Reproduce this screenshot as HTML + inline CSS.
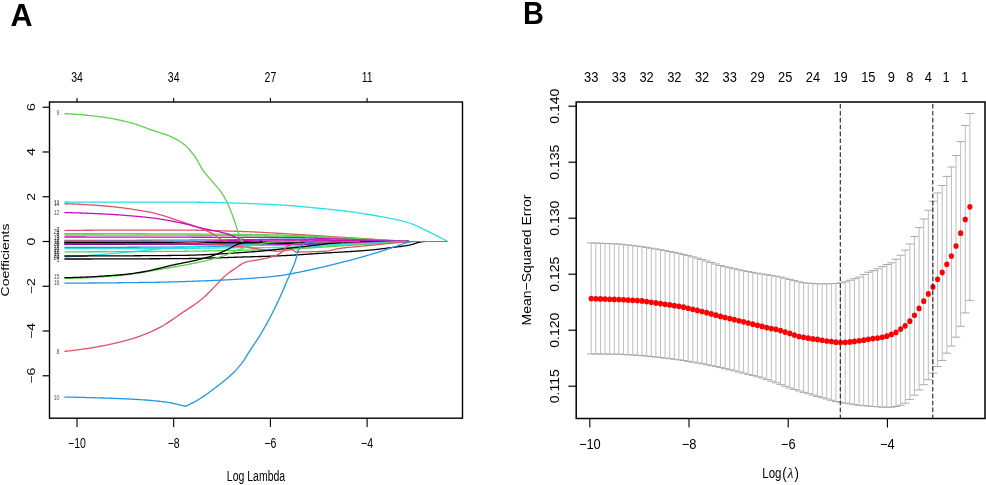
<!DOCTYPE html>
<html><head><meta charset="utf-8"><title>LASSO</title>
<style>html,body{margin:0;padding:0;background:#fff;overflow:hidden}svg{display:block;will-change:transform}text{font-family:"Liberation Sans",sans-serif}</style>
</head><body>
<svg width="986" height="485" viewBox="0 0 986 485" font-family="Liberation Sans, sans-serif"><rect width="986" height="485" fill="#fff"/><path d="M235,241.5H409.0" stroke="#7a3a8a" stroke-width="1.2" fill="none"/>
<path d="M64.4,230.4 L65.9,230.39 L67.4,230.38 L68.9,230.37 L70.4,230.36 L71.9,230.35 L73.4,230.34 L74.9,230.33 L76.4,230.32 L77.9,230.31 L79.4,230.3 L80.9,230.29 L82.4,230.28 L83.9,230.27 L85.4,230.26 L86.9,230.26 L88.4,230.25 L89.9,230.24 L91.4,230.24 L92.9,230.23 L94.4,230.22 L95.9,230.22 L97.4,230.21 L98.9,230.2 L100.4,230.2 L101.9,230.19 L103.4,230.19 L104.9,230.18 L106.4,230.18 L107.9,230.17 L109.4,230.17 L110.9,230.16 L112.4,230.16 L113.9,230.16 L115.4,230.15 L116.9,230.15 L118.4,230.15 L119.9,230.14 L121.4,230.14 L122.9,230.14 L124.4,230.13 L125.9,230.13 L127.4,230.13 L128.9,230.13 L130.4,230.12 L131.9,230.12 L133.4,230.12 L134.9,230.12 L136.4,230.12 L137.9,230.11 L139.4,230.11 L140.9,230.11 L142.4,230.11 L143.9,230.11 L145.4,230.11 L146.9,230.11 L148.4,230.11 L149.9,230.11 L151.4,230.1 L152.9,230.1 L154.4,230.1 L155.9,230.1 L157.4,230.1 L158.9,230.1 L160.4,230.1 L161.9,230.1 L163.4,230.1 L164.9,230.1 L166.4,230.1 L167.9,230.1 L169.4,230.1 L170.9,230.1 L172.4,230.1 L173.9,230.1 L175.4,230.1 L176.9,230.1 L178.4,230.1 L179.9,230.1 L181.4,230.1 L182.9,230.1 L184.4,230.11 L185.9,230.12 L187.4,230.13 L188.9,230.14 L190.4,230.16 L191.9,230.17 L193.4,230.19 L194.9,230.21 L196.4,230.24 L197.9,230.26 L199.4,230.29 L200.9,230.32 L202.4,230.35 L203.9,230.38 L205.4,230.41 L206.9,230.44 L208.4,230.48 L209.9,230.52 L211.4,230.55 L212.9,230.59 L214.4,230.63 L215.9,230.67 L217.4,230.72 L218.9,230.76 L220.4,230.8 L221.9,230.84 L223.4,230.89 L224.9,230.93 L226.4,230.98 L227.9,231.03 L229.4,231.07 L230.9,231.12 L232.4,231.16 L233.9,231.21 L235.4,231.26 L236.9,231.3 L238.4,231.35 L239.9,231.4 L241.4,231.44 L242.9,231.49 L244.4,231.55 L245.9,231.6 L247.4,231.66 L248.9,231.72 L250.4,231.79 L251.9,231.85 L253.4,231.92 L254.9,231.99 L256.4,232.06 L257.9,232.14 L259.4,232.21 L260.9,232.29 L262.4,232.37 L263.9,232.45 L265.4,232.53 L266.9,232.61 L268.4,232.7 L269.9,232.79 L271.4,232.87 L272.9,232.96 L274.4,233.05 L275.9,233.14 L277.4,233.23 L278.9,233.32 L280.4,233.41 L281.9,233.5 L283.4,233.59 L284.9,233.69 L286.4,233.78 L287.9,233.87 L289.4,233.96 L290.9,234.05 L292.4,234.14 L293.9,234.24 L295.4,234.33 L296.9,234.42 L298.4,234.51 L299.9,234.59 L301.4,234.68 L302.9,234.77 L304.4,234.87 L305.9,234.96 L307.4,235.05 L308.9,235.15 L310.4,235.25 L311.9,235.34 L313.4,235.44 L314.9,235.54 L316.4,235.63 L317.9,235.73 L319.4,235.83 L320.9,235.92 L322.4,236.02 L323.9,236.11 L325.4,236.21 L326.9,236.3 L328.4,236.4 L329.9,236.49 L331.4,236.59 L332.9,236.68 L334.4,236.78 L335.9,236.87 L337.4,236.97 L338.9,237.06 L340.4,237.16 L341.9,237.25 L343.4,237.35 L344.9,237.44 L346.4,237.54 L347.9,237.63 L349.4,237.73 L350.9,237.82 L352.4,237.92 L353.9,238.01 L355.4,238.11 L356.9,238.2 L358.4,238.3 L359.9,238.39 L361.4,238.49 L362.9,238.58 L364.4,238.68 L365.9,238.77 L367.4,238.87 L368.9,238.96 L370.4,239.06 L371.9,239.15 L373.4,239.25 L374.9,239.34 L376.4,239.44 L377.9,239.53 L379.4,239.63 L380.9,239.72 L382.4,239.82 L383.9,239.91 L385.4,240.01 L386.9,240.1 L388.4,240.2 L389.9,240.29 L391.4,240.39 L392.9,240.48 L394.4,240.58 L395.9,240.67 L397.4,240.77 L398.9,240.86 L400.4,240.96 L401.9,241.05 L403.4,241.15 L404.9,241.24 L406.4,241.34 L407.9,241.43 L409,241.5" stroke="#DF536B" stroke-width="1.3" fill="none"/>
<path d="M64.4,233.6 L65.9,233.6 L67.4,233.6 L68.9,233.6 L70.4,233.6 L71.9,233.6 L73.4,233.6 L74.9,233.6 L76.4,233.6 L77.9,233.61 L79.4,233.61 L80.9,233.61 L82.4,233.61 L83.9,233.61 L85.4,233.61 L86.9,233.61 L88.4,233.62 L89.9,233.62 L91.4,233.62 L92.9,233.62 L94.4,233.63 L95.9,233.63 L97.4,233.63 L98.9,233.63 L100.4,233.64 L101.9,233.64 L103.4,233.64 L104.9,233.65 L106.4,233.65 L107.9,233.65 L109.4,233.66 L110.9,233.66 L112.4,233.66 L113.9,233.67 L115.4,233.67 L116.9,233.68 L118.4,233.68 L119.9,233.68 L121.4,233.69 L122.9,233.69 L124.4,233.7 L125.9,233.7 L127.4,233.71 L128.9,233.71 L130.4,233.71 L131.9,233.72 L133.4,233.72 L134.9,233.73 L136.4,233.73 L137.9,233.74 L139.4,233.74 L140.9,233.75 L142.4,233.75 L143.9,233.76 L145.4,233.76 L146.9,233.77 L148.4,233.78 L149.9,233.78 L151.4,233.79 L152.9,233.79 L154.4,233.8 L155.9,233.8 L157.4,233.81 L158.9,233.81 L160.4,233.82 L161.9,233.83 L163.4,233.83 L164.9,233.84 L166.4,233.84 L167.9,233.85 L169.4,233.86 L170.9,233.86 L172.4,233.87 L173.9,233.87 L175.4,233.88 L176.9,233.89 L178.4,233.89 L179.9,233.9 L181.4,233.91 L182.9,233.91 L184.4,233.92 L185.9,233.93 L187.4,233.93 L188.9,233.94 L190.4,233.95 L191.9,233.96 L193.4,233.97 L194.9,233.98 L196.4,233.99 L197.9,234 L199.4,234.01 L200.9,234.02 L202.4,234.03 L203.9,234.04 L205.4,234.05 L206.9,234.06 L208.4,234.07 L209.9,234.08 L211.4,234.1 L212.9,234.11 L214.4,234.12 L215.9,234.13 L217.4,234.15 L218.9,234.16 L220.4,234.17 L221.9,234.19 L223.4,234.2 L224.9,234.22 L226.4,234.23 L227.9,234.25 L229.4,234.26 L230.9,234.28 L232.4,234.29 L233.9,234.31 L235.4,234.33 L236.9,234.34 L238.4,234.36 L239.9,234.38 L241.4,234.4 L242.9,234.41 L244.4,234.43 L245.9,234.45 L247.4,234.47 L248.9,234.49 L250.4,234.51 L251.9,234.52 L253.4,234.54 L254.9,234.57 L256.4,234.59 L257.9,234.61 L259.4,234.63 L260.9,234.66 L262.4,234.68 L263.9,234.71 L265.4,234.73 L266.9,234.76 L268.4,234.79 L269.9,234.82 L271.4,234.85 L272.9,234.88 L274.4,234.91 L275.9,234.94 L277.4,234.98 L278.9,235.01 L280.4,235.04 L281.9,235.08 L283.4,235.12 L284.9,235.16 L286.4,235.2 L287.9,235.24 L289.4,235.28 L290.9,235.32 L292.4,235.36 L293.9,235.41 L295.4,235.45 L296.9,235.5 L298.4,235.55 L299.9,235.6 L301.4,235.65 L302.9,235.71 L304.4,235.78 L305.9,235.85 L307.4,235.93 L308.9,236.02 L310.4,236.1 L311.9,236.19 L313.4,236.28 L314.9,236.38 L316.4,236.47 L317.9,236.56 L319.4,236.65 L320.9,236.73 L322.4,236.81 L323.9,236.89 L325.4,236.97 L326.9,237.06 L328.4,237.14 L329.9,237.22 L331.4,237.3 L332.9,237.38 L334.4,237.46 L335.9,237.54 L337.4,237.62 L338.9,237.71 L340.4,237.79 L341.9,237.87 L343.4,237.95 L344.9,238.03 L346.4,238.11 L347.9,238.19 L349.4,238.27 L350.9,238.36 L352.4,238.44 L353.9,238.52 L355.4,238.6 L356.9,238.68 L358.4,238.76 L359.9,238.84 L361.4,238.92 L362.9,239 L364.4,239.09 L365.9,239.17 L367.4,239.25 L368.9,239.33 L370.4,239.41 L371.9,239.49 L373.4,239.57 L374.9,239.65 L376.4,239.74 L377.9,239.82 L379.4,239.9 L380.9,239.98 L382.4,240.06 L383.9,240.14 L385.4,240.22 L386.9,240.3 L388.4,240.38 L389.9,240.47 L391.4,240.55 L392.9,240.63 L394.4,240.71 L395.9,240.79 L397.4,240.87 L398.9,240.95 L400.4,241.03 L401.9,241.12 L403.4,241.2 L404.9,241.28 L406.4,241.36 L407.9,241.44 L409,241.5" stroke="#61D04F" stroke-width="1.3" fill="none"/>
<path d="M64.4,235 L65.9,235 L67.4,235 L68.9,235 L70.4,235 L71.9,235 L73.4,235 L74.9,235 L76.4,235 L77.9,235 L79.4,235 L80.9,235 L82.4,235.01 L83.9,235.01 L85.4,235.01 L86.9,235.01 L88.4,235.01 L89.9,235.01 L91.4,235.01 L92.9,235.01 L94.4,235.02 L95.9,235.02 L97.4,235.02 L98.9,235.02 L100.4,235.02 L101.9,235.02 L103.4,235.03 L104.9,235.03 L106.4,235.03 L107.9,235.03 L109.4,235.03 L110.9,235.04 L112.4,235.04 L113.9,235.04 L115.4,235.04 L116.9,235.05 L118.4,235.05 L119.9,235.05 L121.4,235.05 L122.9,235.06 L124.4,235.06 L125.9,235.06 L127.4,235.07 L128.9,235.07 L130.4,235.07 L131.9,235.08 L133.4,235.08 L134.9,235.08 L136.4,235.08 L137.9,235.09 L139.4,235.09 L140.9,235.09 L142.4,235.1 L143.9,235.1 L145.4,235.11 L146.9,235.11 L148.4,235.11 L149.9,235.12 L151.4,235.12 L152.9,235.12 L154.4,235.13 L155.9,235.13 L157.4,235.14 L158.9,235.14 L160.4,235.14 L161.9,235.15 L163.4,235.15 L164.9,235.16 L166.4,235.16 L167.9,235.16 L169.4,235.17 L170.9,235.17 L172.4,235.18 L173.9,235.18 L175.4,235.19 L176.9,235.19 L178.4,235.2 L179.9,235.2 L181.4,235.2 L182.9,235.21 L184.4,235.22 L185.9,235.22 L187.4,235.23 L188.9,235.24 L190.4,235.24 L191.9,235.25 L193.4,235.26 L194.9,235.27 L196.4,235.28 L197.9,235.29 L199.4,235.3 L200.9,235.31 L202.4,235.32 L203.9,235.33 L205.4,235.34 L206.9,235.36 L208.4,235.37 L209.9,235.38 L211.4,235.39 L212.9,235.41 L214.4,235.42 L215.9,235.44 L217.4,235.45 L218.9,235.46 L220.4,235.48 L221.9,235.49 L223.4,235.51 L224.9,235.52 L226.4,235.54 L227.9,235.56 L229.4,235.57 L230.9,235.59 L232.4,235.6 L233.9,235.62 L235.4,235.64 L236.9,235.65 L238.4,235.67 L239.9,235.69 L241.4,235.7 L242.9,235.72 L244.4,235.74 L245.9,235.75 L247.4,235.77 L248.9,235.79 L250.4,235.8 L251.9,235.82 L253.4,235.84 L254.9,235.86 L256.4,235.87 L257.9,235.89 L259.4,235.91 L260.9,235.93 L262.4,235.94 L263.9,235.96 L265.4,235.98 L266.9,236 L268.4,236.02 L269.9,236.04 L271.4,236.06 L272.9,236.08 L274.4,236.1 L275.9,236.13 L277.4,236.15 L278.9,236.17 L280.4,236.2 L281.9,236.22 L283.4,236.25 L284.9,236.28 L286.4,236.3 L287.9,236.33 L289.4,236.36 L290.9,236.39 L292.4,236.42 L293.9,236.46 L295.4,236.49 L296.9,236.52 L298.4,236.56 L299.9,236.6 L301.4,236.64 L302.9,236.69 L304.4,236.74 L305.9,236.8 L307.4,236.87 L308.9,236.94 L310.4,237.01 L311.9,237.09 L313.4,237.16 L314.9,237.24 L316.4,237.32 L317.9,237.39 L319.4,237.47 L320.9,237.54 L322.4,237.61 L323.9,237.67 L325.4,237.74 L326.9,237.81 L328.4,237.88 L329.9,237.94 L331.4,238.01 L332.9,238.08 L334.4,238.15 L335.9,238.21 L337.4,238.28 L338.9,238.35 L340.4,238.42 L341.9,238.48 L343.4,238.55 L344.9,238.62 L346.4,238.69 L347.9,238.75 L349.4,238.82 L350.9,238.89 L352.4,238.96 L353.9,239.02 L355.4,239.09 L356.9,239.16 L358.4,239.23 L359.9,239.29 L361.4,239.36 L362.9,239.43 L364.4,239.5 L365.9,239.56 L367.4,239.63 L368.9,239.7 L370.4,239.76 L371.9,239.83 L373.4,239.9 L374.9,239.97 L376.4,240.03 L377.9,240.1 L379.4,240.17 L380.9,240.24 L382.4,240.3 L383.9,240.37 L385.4,240.44 L386.9,240.51 L388.4,240.57 L389.9,240.64 L391.4,240.71 L392.9,240.78 L394.4,240.84 L395.9,240.91 L397.4,240.98 L398.9,241.05 L400.4,241.11 L401.9,241.18 L403.4,241.25 L404.9,241.32 L406.4,241.38 L407.9,241.45 L409,241.5" stroke="#61D04F" stroke-width="1.3" fill="none"/>
<path d="M64.4,237 L65.9,237 L67.4,237 L68.9,237 L70.4,237.01 L71.9,237.01 L73.4,237.01 L74.9,237.01 L76.4,237.01 L77.9,237.02 L79.4,237.02 L80.9,237.02 L82.4,237.02 L83.9,237.02 L85.4,237.02 L86.9,237.03 L88.4,237.03 L89.9,237.03 L91.4,237.03 L92.9,237.04 L94.4,237.04 L95.9,237.04 L97.4,237.04 L98.9,237.04 L100.4,237.05 L101.9,237.05 L103.4,237.05 L104.9,237.05 L106.4,237.06 L107.9,237.06 L109.4,237.06 L110.9,237.06 L112.4,237.07 L113.9,237.07 L115.4,237.07 L116.9,237.07 L118.4,237.08 L119.9,237.08 L121.4,237.08 L122.9,237.08 L124.4,237.09 L125.9,237.09 L127.4,237.09 L128.9,237.1 L130.4,237.1 L131.9,237.1 L133.4,237.1 L134.9,237.11 L136.4,237.11 L137.9,237.11 L139.4,237.12 L140.9,237.12 L142.4,237.12 L143.9,237.12 L145.4,237.13 L146.9,237.13 L148.4,237.13 L149.9,237.14 L151.4,237.14 L152.9,237.14 L154.4,237.15 L155.9,237.15 L157.4,237.15 L158.9,237.15 L160.4,237.16 L161.9,237.16 L163.4,237.16 L164.9,237.17 L166.4,237.17 L167.9,237.17 L169.4,237.18 L170.9,237.18 L172.4,237.18 L173.9,237.19 L175.4,237.19 L176.9,237.19 L178.4,237.2 L179.9,237.2 L181.4,237.2 L182.9,237.21 L184.4,237.21 L185.9,237.21 L187.4,237.22 L188.9,237.22 L190.4,237.22 L191.9,237.23 L193.4,237.23 L194.9,237.23 L196.4,237.24 L197.9,237.24 L199.4,237.24 L200.9,237.25 L202.4,237.25 L203.9,237.26 L205.4,237.26 L206.9,237.26 L208.4,237.27 L209.9,237.27 L211.4,237.27 L212.9,237.28 L214.4,237.28 L215.9,237.29 L217.4,237.29 L218.9,237.3 L220.4,237.3 L221.9,237.3 L223.4,237.31 L224.9,237.31 L226.4,237.32 L227.9,237.32 L229.4,237.33 L230.9,237.33 L232.4,237.34 L233.9,237.34 L235.4,237.35 L236.9,237.35 L238.4,237.36 L239.9,237.36 L241.4,237.37 L242.9,237.37 L244.4,237.38 L245.9,237.38 L247.4,237.39 L248.9,237.4 L250.4,237.4 L251.9,237.41 L253.4,237.41 L254.9,237.42 L256.4,237.42 L257.9,237.43 L259.4,237.44 L260.9,237.44 L262.4,237.45 L263.9,237.45 L265.4,237.46 L266.9,237.47 L268.4,237.47 L269.9,237.48 L271.4,237.49 L272.9,237.49 L274.4,237.5 L275.9,237.51 L277.4,237.52 L278.9,237.53 L280.4,237.53 L281.9,237.54 L283.4,237.55 L284.9,237.56 L286.4,237.57 L287.9,237.59 L289.4,237.6 L290.9,237.61 L292.4,237.62 L293.9,237.64 L295.4,237.65 L296.9,237.67 L298.4,237.68 L299.9,237.7 L301.4,237.72 L302.9,237.75 L304.4,237.79 L305.9,237.83 L307.4,237.88 L308.9,237.94 L310.4,238 L311.9,238.06 L313.4,238.12 L314.9,238.18 L316.4,238.25 L317.9,238.31 L319.4,238.37 L320.9,238.43 L322.4,238.48 L323.9,238.53 L325.4,238.59 L326.9,238.64 L328.4,238.69 L329.9,238.74 L331.4,238.79 L332.9,238.85 L334.4,238.9 L335.9,238.95 L337.4,239 L338.9,239.06 L340.4,239.11 L341.9,239.16 L343.4,239.21 L344.9,239.27 L346.4,239.32 L347.9,239.37 L349.4,239.42 L350.9,239.47 L352.4,239.53 L353.9,239.58 L355.4,239.63 L356.9,239.68 L358.4,239.74 L359.9,239.79 L361.4,239.84 L362.9,239.89 L364.4,239.95 L365.9,240 L367.4,240.05 L368.9,240.1 L370.4,240.15 L371.9,240.21 L373.4,240.26 L374.9,240.31 L376.4,240.36 L377.9,240.42 L379.4,240.47 L380.9,240.52 L382.4,240.57 L383.9,240.62 L385.4,240.68 L386.9,240.73 L388.4,240.78 L389.9,240.83 L391.4,240.89 L392.9,240.94 L394.4,240.99 L395.9,241.04 L397.4,241.1 L398.9,241.15 L400.4,241.2 L401.9,241.25 L403.4,241.3 L404.9,241.36 L406.4,241.41 L407.9,241.46 L409,241.5" stroke="#CD0BBC" stroke-width="1.3" fill="none"/>
<path d="M64.4,240.3 L65.9,240.3 L67.4,240.3 L68.9,240.3 L70.4,240.3 L71.9,240.3 L73.4,240.3 L74.9,240.3 L76.4,240.3 L77.9,240.3 L79.4,240.3 L80.9,240.3 L82.4,240.3 L83.9,240.3 L85.4,240.3 L86.9,240.3 L88.4,240.3 L89.9,240.3 L91.4,240.3 L92.9,240.3 L94.4,240.3 L95.9,240.3 L97.4,240.3 L98.9,240.3 L100.4,240.3 L101.9,240.3 L103.4,240.3 L104.9,240.3 L106.4,240.3 L107.9,240.3 L109.4,240.3 L110.9,240.3 L112.4,240.3 L113.9,240.3 L115.4,240.3 L116.9,240.3 L118.4,240.3 L119.9,240.3 L121.4,240.3 L122.9,240.3 L124.4,240.3 L125.9,240.3 L127.4,240.29 L128.9,240.29 L130.4,240.29 L131.9,240.29 L133.4,240.28 L134.9,240.28 L136.4,240.28 L137.9,240.27 L139.4,240.27 L140.9,240.27 L142.4,240.26 L143.9,240.26 L145.4,240.25 L146.9,240.25 L148.4,240.24 L149.9,240.24 L151.4,240.23 L152.9,240.22 L154.4,240.22 L155.9,240.21 L157.4,240.2 L158.9,240.2 L160.4,240.19 L161.9,240.18 L163.4,240.18 L164.9,240.17 L166.4,240.16 L167.9,240.15 L169.4,240.14 L170.9,240.14 L172.4,240.13 L173.9,240.12 L175.4,240.11 L176.9,240.1 L178.4,240.09 L179.9,240.08 L181.4,240.07 L182.9,240.07 L184.4,240.06 L185.9,240.05 L187.4,240.04 L188.9,240.03 L190.4,240.02 L191.9,240.01 L193.4,240 L194.9,239.99 L196.4,239.98 L197.9,239.97 L199.4,239.96 L200.9,239.95 L202.4,239.94 L203.9,239.92 L205.4,239.91 L206.9,239.9 L208.4,239.89 L209.9,239.88 L211.4,239.87 L212.9,239.86 L214.4,239.85 L215.9,239.84 L217.4,239.83 L218.9,239.82 L220.4,239.81 L221.9,239.8 L223.4,239.79 L224.9,239.77 L226.4,239.76 L227.9,239.75 L229.4,239.74 L230.9,239.73 L232.4,239.72 L233.9,239.71 L235.4,239.7 L236.9,239.69 L238.4,239.68 L239.9,239.67 L241.4,239.66 L242.9,239.65 L244.4,239.64 L245.9,239.63 L247.4,239.62 L248.9,239.61 L250.4,239.6 L251.9,239.59 L253.4,239.58 L254.9,239.56 L256.4,239.55 L257.9,239.54 L259.4,239.52 L260.9,239.51 L262.4,239.49 L263.9,239.48 L265.4,239.46 L266.9,239.45 L268.4,239.43 L269.9,239.41 L271.4,239.4 L272.9,239.38 L274.4,239.37 L275.9,239.35 L277.4,239.33 L278.9,239.32 L280.4,239.31 L281.9,239.29 L283.4,239.28 L284.9,239.27 L286.4,239.25 L287.9,239.24 L289.4,239.23 L290.9,239.23 L292.4,239.22 L293.9,239.21 L295.4,239.21 L296.9,239.2 L298.4,239.2 L299.9,239.2 L301.4,239.2 L302.9,239.22 L304.4,239.23 L305.9,239.26 L307.4,239.29 L308.9,239.32 L310.4,239.36 L311.9,239.4 L313.4,239.44 L314.9,239.48 L316.4,239.52 L317.9,239.57 L319.4,239.6 L320.9,239.64 L322.4,239.67 L323.9,239.7 L325.4,239.74 L326.9,239.77 L328.4,239.8 L329.9,239.83 L331.4,239.86 L332.9,239.89 L334.4,239.93 L335.9,239.96 L337.4,239.99 L338.9,240.02 L340.4,240.05 L341.9,240.08 L343.4,240.12 L344.9,240.15 L346.4,240.18 L347.9,240.21 L349.4,240.24 L350.9,240.27 L352.4,240.31 L353.9,240.34 L355.4,240.37 L356.9,240.4 L358.4,240.43 L359.9,240.46 L361.4,240.5 L362.9,240.53 L364.4,240.56 L365.9,240.59 L367.4,240.62 L368.9,240.65 L370.4,240.69 L371.9,240.72 L373.4,240.75 L374.9,240.78 L376.4,240.81 L377.9,240.84 L379.4,240.88 L380.9,240.91 L382.4,240.94 L383.9,240.97 L385.4,241 L386.9,241.03 L388.4,241.07 L389.9,241.1 L391.4,241.13 L392.9,241.16 L394.4,241.19 L395.9,241.22 L397.4,241.26 L398.9,241.29 L400.4,241.32 L401.9,241.35 L403.4,241.38 L404.9,241.41 L406.4,241.45 L407.9,241.48 L409,241.5" stroke="#2297E6" stroke-width="1.3" fill="none"/>
<path d="M64.4,243.4 L65.9,243.4 L67.4,243.4 L68.9,243.4 L70.4,243.4 L71.9,243.4 L73.4,243.39 L74.9,243.39 L76.4,243.39 L77.9,243.39 L79.4,243.39 L80.9,243.38 L82.4,243.38 L83.9,243.38 L85.4,243.37 L86.9,243.37 L88.4,243.37 L89.9,243.36 L91.4,243.36 L92.9,243.35 L94.4,243.35 L95.9,243.34 L97.4,243.34 L98.9,243.33 L100.4,243.32 L101.9,243.32 L103.4,243.31 L104.9,243.3 L106.4,243.3 L107.9,243.29 L109.4,243.28 L110.9,243.27 L112.4,243.27 L113.9,243.26 L115.4,243.25 L116.9,243.24 L118.4,243.23 L119.9,243.22 L121.4,243.21 L122.9,243.2 L124.4,243.19 L125.9,243.18 L127.4,243.17 L128.9,243.16 L130.4,243.15 L131.9,243.14 L133.4,243.13 L134.9,243.12 L136.4,243.11 L137.9,243.1 L139.4,243.09 L140.9,243.08 L142.4,243.06 L143.9,243.05 L145.4,243.04 L146.9,243.03 L148.4,243.01 L149.9,243 L151.4,242.99 L152.9,242.97 L154.4,242.95 L155.9,242.92 L157.4,242.89 L158.9,242.86 L160.4,242.83 L161.9,242.79 L163.4,242.75 L164.9,242.71 L166.4,242.67 L167.9,242.62 L169.4,242.57 L170.9,242.52 L172.4,242.47 L173.9,242.42 L175.4,242.37 L176.9,242.32 L178.4,242.26 L179.9,242.21 L181.4,242.15 L182.9,242.1 L184.4,242.04 L185.9,241.98 L187.4,241.93 L188.9,241.87 L190.4,241.82 L191.9,241.77 L193.4,241.71 L194.9,241.66 L196.4,241.61 L197.9,241.56 L199.4,241.52 L200.9,241.47 L202.4,241.43 L203.9,241.38 L205.4,241.33 L206.9,241.27 L208.4,241.22 L209.9,241.17 L211.4,241.11 L212.9,241.06 L214.4,241 L215.9,240.94 L217.4,240.89 L218.9,240.83 L220.4,240.77 L221.9,240.72 L223.4,240.66 L224.9,240.61 L226.4,240.56 L227.9,240.51 L229.4,240.45 L230.9,240.41 L232.4,240.36 L233.9,240.31 L235.4,240.27 L236.9,240.23 L238.4,240.19 L239.9,240.16 L241.4,240.12 L242.9,240.09 L244.4,240.07 L245.9,240.04 L247.4,240.02 L248.9,240.01 L250.4,240 L251.9,239.99 L253.4,239.98 L254.9,239.97 L256.4,239.96 L257.9,239.95 L259.4,239.94 L260.9,239.93 L262.4,239.92 L263.9,239.91 L265.4,239.9 L266.9,239.89 L268.4,239.89 L269.9,239.88 L271.4,239.87 L272.9,239.87 L274.4,239.86 L275.9,239.85 L277.4,239.85 L278.9,239.84 L280.4,239.84 L281.9,239.83 L283.4,239.83 L284.9,239.82 L286.4,239.82 L287.9,239.81 L289.4,239.81 L290.9,239.81 L292.4,239.81 L293.9,239.8 L295.4,239.8 L296.9,239.8 L298.4,239.8 L299.9,239.8 L301.4,239.8 L302.9,239.81 L304.4,239.82 L305.9,239.84 L307.4,239.87 L308.9,239.89 L310.4,239.92 L311.9,239.95 L313.4,239.98 L314.9,240.01 L316.4,240.04 L317.9,240.07 L319.4,240.1 L320.9,240.13 L322.4,240.15 L323.9,240.17 L325.4,240.2 L326.9,240.22 L328.4,240.24 L329.9,240.27 L331.4,240.29 L332.9,240.31 L334.4,240.34 L335.9,240.36 L337.4,240.38 L338.9,240.41 L340.4,240.43 L341.9,240.45 L343.4,240.48 L344.9,240.5 L346.4,240.52 L347.9,240.55 L349.4,240.57 L350.9,240.59 L352.4,240.62 L353.9,240.64 L355.4,240.66 L356.9,240.69 L358.4,240.71 L359.9,240.73 L361.4,240.76 L362.9,240.78 L364.4,240.8 L365.9,240.83 L367.4,240.85 L368.9,240.87 L370.4,240.9 L371.9,240.92 L373.4,240.94 L374.9,240.97 L376.4,240.99 L377.9,241.01 L379.4,241.04 L380.9,241.06 L382.4,241.09 L383.9,241.11 L385.4,241.13 L386.9,241.16 L388.4,241.18 L389.9,241.2 L391.4,241.23 L392.9,241.25 L394.4,241.27 L395.9,241.3 L397.4,241.32 L398.9,241.34 L400.4,241.37 L401.9,241.39 L403.4,241.41 L404.9,241.44 L406.4,241.46 L407.9,241.48 L409,241.5" stroke="#CD0BBC" stroke-width="1.3" fill="none"/>
<path d="M64.4,242.9 L65.9,242.9 L67.4,242.9 L68.9,242.9 L70.4,242.9 L71.9,242.9 L73.4,242.9 L74.9,242.9 L76.4,242.9 L77.9,242.9 L79.4,242.89 L80.9,242.89 L82.4,242.89 L83.9,242.89 L85.4,242.89 L86.9,242.89 L88.4,242.89 L89.9,242.88 L91.4,242.88 L92.9,242.88 L94.4,242.88 L95.9,242.88 L97.4,242.87 L98.9,242.87 L100.4,242.87 L101.9,242.87 L103.4,242.86 L104.9,242.86 L106.4,242.86 L107.9,242.85 L109.4,242.85 L110.9,242.85 L112.4,242.84 L113.9,242.84 L115.4,242.84 L116.9,242.83 L118.4,242.83 L119.9,242.83 L121.4,242.82 L122.9,242.82 L124.4,242.81 L125.9,242.81 L127.4,242.81 L128.9,242.8 L130.4,242.8 L131.9,242.79 L133.4,242.79 L134.9,242.78 L136.4,242.78 L137.9,242.77 L139.4,242.77 L140.9,242.76 L142.4,242.76 L143.9,242.75 L145.4,242.75 L146.9,242.74 L148.4,242.74 L149.9,242.73 L151.4,242.73 L152.9,242.72 L154.4,242.71 L155.9,242.71 L157.4,242.7 L158.9,242.7 L160.4,242.69 L161.9,242.68 L163.4,242.68 L164.9,242.67 L166.4,242.66 L167.9,242.66 L169.4,242.65 L170.9,242.64 L172.4,242.64 L173.9,242.63 L175.4,242.62 L176.9,242.62 L178.4,242.61 L179.9,242.6 L181.4,242.59 L182.9,242.58 L184.4,242.57 L185.9,242.55 L187.4,242.53 L188.9,242.51 L190.4,242.49 L191.9,242.46 L193.4,242.44 L194.9,242.41 L196.4,242.38 L197.9,242.35 L199.4,242.31 L200.9,242.28 L202.4,242.24 L203.9,242.21 L205.4,242.17 L206.9,242.13 L208.4,242.09 L209.9,242.05 L211.4,242.01 L212.9,241.97 L214.4,241.93 L215.9,241.89 L217.4,241.85 L218.9,241.81 L220.4,241.77 L221.9,241.73 L223.4,241.69 L224.9,241.65 L226.4,241.61 L227.9,241.57 L229.4,241.54 L230.9,241.5 L232.4,241.47 L233.9,241.44 L235.4,241.4 L236.9,241.37 L238.4,241.35 L239.9,241.32 L241.4,241.3 L242.9,241.27 L244.4,241.25 L245.9,241.24 L247.4,241.22 L248.9,241.21 L250.4,241.2 L251.9,241.19 L253.4,241.18 L254.9,241.17 L256.4,241.16 L257.9,241.15 L259.4,241.14 L260.9,241.13 L262.4,241.12 L263.9,241.12 L265.4,241.11 L266.9,241.1 L268.4,241.09 L269.9,241.08 L271.4,241.08 L272.9,241.07 L274.4,241.06 L275.9,241.06 L277.4,241.05 L278.9,241.04 L280.4,241.04 L281.9,241.03 L283.4,241.03 L284.9,241.02 L286.4,241.02 L287.9,241.02 L289.4,241.01 L290.9,241.01 L292.4,241.01 L293.9,241 L295.4,241 L296.9,241 L298.4,241 L299.9,241 L301.4,241 L302.9,241 L304.4,241.01 L305.9,241.01 L307.4,241.02 L308.9,241.03 L310.4,241.03 L311.9,241.04 L313.4,241.05 L314.9,241.06 L316.4,241.07 L317.9,241.08 L319.4,241.09 L320.9,241.1 L322.4,241.1 L323.9,241.11 L325.4,241.12 L326.9,241.12 L328.4,241.13 L329.9,241.14 L331.4,241.14 L332.9,241.15 L334.4,241.16 L335.9,241.16 L337.4,241.17 L338.9,241.18 L340.4,241.19 L341.9,241.19 L343.4,241.2 L344.9,241.21 L346.4,241.21 L347.9,241.22 L349.4,241.23 L350.9,241.23 L352.4,241.24 L353.9,241.25 L355.4,241.25 L356.9,241.26 L358.4,241.27 L359.9,241.27 L361.4,241.28 L362.9,241.29 L364.4,241.3 L365.9,241.3 L367.4,241.31 L368.9,241.32 L370.4,241.32 L371.9,241.33 L373.4,241.34 L374.9,241.34 L376.4,241.35 L377.9,241.36 L379.4,241.36 L380.9,241.37 L382.4,241.38 L383.9,241.38 L385.4,241.39 L386.9,241.4 L388.4,241.41 L389.9,241.41 L391.4,241.42 L392.9,241.43 L394.4,241.43 L395.9,241.44 L397.4,241.45 L398.9,241.45 L400.4,241.46 L401.9,241.47 L403.4,241.47 L404.9,241.48 L406.4,241.49 L407.9,241.49 L409,241.5" stroke="#CD0BBC" stroke-width="1.3" fill="none"/>
<path d="M64.4,241.6 L65.9,241.6 L67.4,241.6 L68.9,241.6 L70.4,241.6 L71.9,241.6 L73.4,241.6 L74.9,241.6 L76.4,241.6 L77.9,241.6 L79.4,241.6 L80.9,241.6 L82.4,241.6 L83.9,241.6 L85.4,241.6 L86.9,241.6 L88.4,241.6 L89.9,241.6 L91.4,241.61 L92.9,241.61 L94.4,241.61 L95.9,241.61 L97.4,241.61 L98.9,241.61 L100.4,241.61 L101.9,241.61 L103.4,241.61 L104.9,241.61 L106.4,241.61 L107.9,241.61 L109.4,241.61 L110.9,241.61 L112.4,241.62 L113.9,241.62 L115.4,241.62 L116.9,241.62 L118.4,241.62 L119.9,241.62 L121.4,241.62 L122.9,241.62 L124.4,241.62 L125.9,241.63 L127.4,241.63 L128.9,241.63 L130.4,241.63 L131.9,241.63 L133.4,241.63 L134.9,241.63 L136.4,241.63 L137.9,241.64 L139.4,241.64 L140.9,241.64 L142.4,241.64 L143.9,241.64 L145.4,241.64 L146.9,241.64 L148.4,241.65 L149.9,241.65 L151.4,241.65 L152.9,241.65 L154.4,241.65 L155.9,241.65 L157.4,241.66 L158.9,241.66 L160.4,241.66 L161.9,241.66 L163.4,241.66 L164.9,241.66 L166.4,241.67 L167.9,241.67 L169.4,241.67 L170.9,241.67 L172.4,241.67 L173.9,241.68 L175.4,241.68 L176.9,241.68 L178.4,241.68 L179.9,241.68 L181.4,241.69 L182.9,241.69 L184.4,241.69 L185.9,241.69 L187.4,241.69 L188.9,241.7 L190.4,241.7 L191.9,241.7 L193.4,241.7 L194.9,241.71 L196.4,241.71 L197.9,241.71 L199.4,241.71 L200.9,241.71 L202.4,241.72 L203.9,241.72 L205.4,241.72 L206.9,241.72 L208.4,241.73 L209.9,241.73 L211.4,241.73 L212.9,241.73 L214.4,241.74 L215.9,241.74 L217.4,241.74 L218.9,241.74 L220.4,241.75 L221.9,241.75 L223.4,241.75 L224.9,241.75 L226.4,241.76 L227.9,241.76 L229.4,241.76 L230.9,241.76 L232.4,241.77 L233.9,241.77 L235.4,241.77 L236.9,241.78 L238.4,241.78 L239.9,241.78 L241.4,241.78 L242.9,241.79 L244.4,241.79 L245.9,241.79 L247.4,241.8 L248.9,241.8 L250.4,241.8 L251.9,241.8 L253.4,241.81 L254.9,241.81 L256.4,241.82 L257.9,241.82 L259.4,241.83 L260.9,241.84 L262.4,241.84 L263.9,241.85 L265.4,241.86 L266.9,241.87 L268.4,241.88 L269.9,241.88 L271.4,241.89 L272.9,241.9 L274.4,241.91 L275.9,241.92 L277.4,241.93 L278.9,241.93 L280.4,241.94 L281.9,241.95 L283.4,241.96 L284.9,241.96 L286.4,241.97 L287.9,241.97 L289.4,241.98 L290.9,241.99 L292.4,241.99 L293.9,241.99 L295.4,242 L296.9,242 L298.4,242 L299.9,242 L301.4,242 L302.9,242 L304.4,241.99 L305.9,241.99 L307.4,241.98 L308.9,241.97 L310.4,241.97 L311.9,241.96 L313.4,241.95 L314.9,241.94 L316.4,241.93 L317.9,241.92 L319.4,241.91 L320.9,241.9 L322.4,241.9 L323.9,241.89 L325.4,241.88 L326.9,241.88 L328.4,241.87 L329.9,241.86 L331.4,241.86 L332.9,241.85 L334.4,241.84 L335.9,241.84 L337.4,241.83 L338.9,241.82 L340.4,241.81 L341.9,241.81 L343.4,241.8 L344.9,241.79 L346.4,241.79 L347.9,241.78 L349.4,241.77 L350.9,241.77 L352.4,241.76 L353.9,241.75 L355.4,241.75 L356.9,241.74 L358.4,241.73 L359.9,241.73 L361.4,241.72 L362.9,241.71 L364.4,241.7 L365.9,241.7 L367.4,241.69 L368.9,241.68 L370.4,241.68 L371.9,241.67 L373.4,241.66 L374.9,241.66 L376.4,241.65 L377.9,241.64 L379.4,241.64 L380.9,241.63 L382.4,241.62 L383.9,241.62 L385.4,241.61 L386.9,241.6 L388.4,241.59 L389.9,241.59 L391.4,241.58 L392.9,241.57 L394.4,241.57 L395.9,241.56 L397.4,241.55 L398.9,241.55 L400.4,241.54 L401.9,241.53 L403.4,241.53 L404.9,241.52 L406.4,241.51 L407.9,241.51 L409,241.5" stroke="#DF536B" stroke-width="1.3" fill="none"/>
<path d="M64.4,242.4 L65.9,242.4 L67.4,242.4 L68.9,242.4 L70.4,242.4 L71.9,242.4 L73.4,242.4 L74.9,242.4 L76.4,242.4 L77.9,242.4 L79.4,242.4 L80.9,242.4 L82.4,242.4 L83.9,242.4 L85.4,242.4 L86.9,242.4 L88.4,242.4 L89.9,242.4 L91.4,242.4 L92.9,242.4 L94.4,242.4 L95.9,242.4 L97.4,242.4 L98.9,242.4 L100.4,242.4 L101.9,242.4 L103.4,242.4 L104.9,242.4 L106.4,242.4 L107.9,242.4 L109.4,242.4 L110.9,242.4 L112.4,242.4 L113.9,242.4 L115.4,242.4 L116.9,242.4 L118.4,242.4 L119.9,242.4 L121.4,242.4 L122.9,242.4 L124.4,242.4 L125.9,242.4 L127.4,242.4 L128.9,242.4 L130.4,242.4 L131.9,242.4 L133.4,242.4 L134.9,242.4 L136.4,242.4 L137.9,242.4 L139.4,242.4 L140.9,242.4 L142.4,242.4 L143.9,242.4 L145.4,242.4 L146.9,242.4 L148.4,242.4 L149.9,242.4 L151.4,242.4 L152.9,242.4 L154.4,242.4 L155.9,242.4 L157.4,242.4 L158.9,242.4 L160.4,242.4 L161.9,242.4 L163.4,242.4 L164.9,242.4 L166.4,242.4 L167.9,242.4 L169.4,242.4 L170.9,242.4 L172.4,242.4 L173.9,242.4 L175.4,242.4 L176.9,242.4 L178.4,242.4 L179.9,242.4 L181.4,242.4 L182.9,242.4 L184.4,242.4 L185.9,242.4 L187.4,242.4 L188.9,242.4 L190.4,242.4 L191.9,242.4 L193.4,242.4 L194.9,242.4 L196.4,242.4 L197.9,242.4 L199.4,242.4 L200.9,242.4 L202.4,242.4 L203.9,242.4 L205.4,242.4 L206.9,242.4 L208.4,242.4 L209.9,242.4 L211.4,242.4 L212.9,242.4 L214.4,242.4 L215.9,242.4 L217.4,242.4 L218.9,242.4 L220.4,242.4 L221.9,242.4 L223.4,242.4 L224.9,242.4 L226.4,242.4 L227.9,242.4 L229.4,242.4 L230.9,242.4 L232.4,242.4 L233.9,242.4 L235.4,242.4 L236.9,242.4 L238.4,242.4 L239.9,242.4 L241.4,242.4 L242.9,242.4 L244.4,242.4 L245.9,242.4 L247.4,242.4 L248.9,242.4 L250.4,242.4 L251.9,242.4 L253.4,242.4 L254.9,242.41 L256.4,242.41 L257.9,242.41 L259.4,242.42 L260.9,242.42 L262.4,242.43 L263.9,242.44 L265.4,242.45 L266.9,242.45 L268.4,242.46 L269.9,242.47 L271.4,242.48 L272.9,242.49 L274.4,242.5 L275.9,242.51 L277.4,242.51 L278.9,242.52 L280.4,242.53 L281.9,242.54 L283.4,242.55 L284.9,242.56 L286.4,242.56 L287.9,242.57 L289.4,242.58 L290.9,242.58 L292.4,242.59 L293.9,242.59 L295.4,242.6 L296.9,242.6 L298.4,242.6 L299.9,242.6 L301.4,242.6 L302.9,242.59 L304.4,242.58 L305.9,242.57 L307.4,242.56 L308.9,242.54 L310.4,242.52 L311.9,242.5 L313.4,242.48 L314.9,242.46 L316.4,242.44 L317.9,242.43 L319.4,242.41 L320.9,242.39 L322.4,242.37 L323.9,242.36 L325.4,242.34 L326.9,242.33 L328.4,242.31 L329.9,242.3 L331.4,242.28 L332.9,242.27 L334.4,242.25 L335.9,242.24 L337.4,242.22 L338.9,242.21 L340.4,242.19 L341.9,242.18 L343.4,242.16 L344.9,242.15 L346.4,242.13 L347.9,242.12 L349.4,242.1 L350.9,242.09 L352.4,242.07 L353.9,242.06 L355.4,242.04 L356.9,242.03 L358.4,242.01 L359.9,242 L361.4,241.98 L362.9,241.97 L364.4,241.95 L365.9,241.93 L367.4,241.92 L368.9,241.9 L370.4,241.89 L371.9,241.87 L373.4,241.86 L374.9,241.84 L376.4,241.83 L377.9,241.81 L379.4,241.8 L380.9,241.78 L382.4,241.77 L383.9,241.75 L385.4,241.74 L386.9,241.72 L388.4,241.71 L389.9,241.69 L391.4,241.68 L392.9,241.66 L394.4,241.65 L395.9,241.63 L397.4,241.62 L398.9,241.6 L400.4,241.59 L401.9,241.57 L403.4,241.56 L404.9,241.54 L406.4,241.53 L407.9,241.51 L409,241.5" stroke="#000000" stroke-width="1.3" fill="none"/>
<path d="M64.4,244.4 L65.9,244.4 L67.4,244.39 L68.9,244.39 L70.4,244.38 L71.9,244.38 L73.4,244.38 L74.9,244.37 L76.4,244.37 L77.9,244.36 L79.4,244.36 L80.9,244.36 L82.4,244.35 L83.9,244.35 L85.4,244.34 L86.9,244.34 L88.4,244.33 L89.9,244.33 L91.4,244.33 L92.9,244.32 L94.4,244.32 L95.9,244.31 L97.4,244.31 L98.9,244.3 L100.4,244.3 L101.9,244.3 L103.4,244.29 L104.9,244.29 L106.4,244.28 L107.9,244.28 L109.4,244.27 L110.9,244.27 L112.4,244.26 L113.9,244.26 L115.4,244.26 L116.9,244.25 L118.4,244.25 L119.9,244.24 L121.4,244.24 L122.9,244.23 L124.4,244.23 L125.9,244.22 L127.4,244.22 L128.9,244.21 L130.4,244.21 L131.9,244.2 L133.4,244.2 L134.9,244.2 L136.4,244.19 L137.9,244.19 L139.4,244.18 L140.9,244.18 L142.4,244.17 L143.9,244.17 L145.4,244.16 L146.9,244.16 L148.4,244.15 L149.9,244.15 L151.4,244.14 L152.9,244.14 L154.4,244.13 L155.9,244.13 L157.4,244.12 L158.9,244.12 L160.4,244.11 L161.9,244.11 L163.4,244.1 L164.9,244.1 L166.4,244.09 L167.9,244.09 L169.4,244.08 L170.9,244.08 L172.4,244.07 L173.9,244.07 L175.4,244.06 L176.9,244.06 L178.4,244.05 L179.9,244.05 L181.4,244.04 L182.9,244.04 L184.4,244.03 L185.9,244.03 L187.4,244.02 L188.9,244.02 L190.4,244.01 L191.9,244.01 L193.4,244 L194.9,244 L196.4,243.99 L197.9,243.99 L199.4,243.98 L200.9,243.98 L202.4,243.97 L203.9,243.97 L205.4,243.96 L206.9,243.95 L208.4,243.95 L209.9,243.94 L211.4,243.94 L212.9,243.93 L214.4,243.93 L215.9,243.92 L217.4,243.92 L218.9,243.91 L220.4,243.91 L221.9,243.9 L223.4,243.9 L224.9,243.89 L226.4,243.89 L227.9,243.88 L229.4,243.87 L230.9,243.87 L232.4,243.86 L233.9,243.86 L235.4,243.85 L236.9,243.85 L238.4,243.84 L239.9,243.84 L241.4,243.83 L242.9,243.83 L244.4,243.82 L245.9,243.81 L247.4,243.81 L248.9,243.8 L250.4,243.8 L251.9,243.79 L253.4,243.79 L254.9,243.78 L256.4,243.78 L257.9,243.77 L259.4,243.77 L260.9,243.76 L262.4,243.76 L263.9,243.76 L265.4,243.75 L266.9,243.75 L268.4,243.74 L269.9,243.74 L271.4,243.73 L272.9,243.73 L274.4,243.72 L275.9,243.72 L277.4,243.71 L278.9,243.71 L280.4,243.7 L281.9,243.7 L283.4,243.69 L284.9,243.69 L286.4,243.68 L287.9,243.67 L289.4,243.66 L290.9,243.66 L292.4,243.65 L293.9,243.64 L295.4,243.63 L296.9,243.62 L298.4,243.61 L299.9,243.6 L301.4,243.59 L302.9,243.57 L304.4,243.55 L305.9,243.52 L307.4,243.5 L308.9,243.47 L310.4,243.43 L311.9,243.4 L313.4,243.37 L314.9,243.33 L316.4,243.3 L317.9,243.26 L319.4,243.23 L320.9,243.2 L322.4,243.17 L323.9,243.14 L325.4,243.11 L326.9,243.08 L328.4,243.05 L329.9,243.02 L331.4,243 L332.9,242.97 L334.4,242.94 L335.9,242.91 L337.4,242.88 L338.9,242.85 L340.4,242.82 L341.9,242.79 L343.4,242.76 L344.9,242.73 L346.4,242.71 L347.9,242.68 L349.4,242.65 L350.9,242.62 L352.4,242.59 L353.9,242.56 L355.4,242.53 L356.9,242.5 L358.4,242.47 L359.9,242.45 L361.4,242.42 L362.9,242.39 L364.4,242.36 L365.9,242.33 L367.4,242.3 L368.9,242.27 L370.4,242.24 L371.9,242.21 L373.4,242.19 L374.9,242.16 L376.4,242.13 L377.9,242.1 L379.4,242.07 L380.9,242.04 L382.4,242.01 L383.9,241.98 L385.4,241.95 L386.9,241.93 L388.4,241.9 L389.9,241.87 L391.4,241.84 L392.9,241.81 L394.4,241.78 L395.9,241.75 L397.4,241.72 L398.9,241.69 L400.4,241.67 L401.9,241.64 L403.4,241.61 L404.9,241.58 L406.4,241.55 L407.9,241.52 L409,241.5" stroke="#000000" stroke-width="1.3" fill="none"/>
<path d="M64.4,247.4 L65.9,247.4 L67.4,247.4 L68.9,247.4 L70.4,247.4 L71.9,247.4 L73.4,247.4 L74.9,247.4 L76.4,247.4 L77.9,247.39 L79.4,247.39 L80.9,247.39 L82.4,247.39 L83.9,247.39 L85.4,247.38 L86.9,247.38 L88.4,247.38 L89.9,247.38 L91.4,247.38 L92.9,247.37 L94.4,247.37 L95.9,247.37 L97.4,247.36 L98.9,247.36 L100.4,247.36 L101.9,247.35 L103.4,247.35 L104.9,247.35 L106.4,247.34 L107.9,247.34 L109.4,247.33 L110.9,247.33 L112.4,247.32 L113.9,247.32 L115.4,247.31 L116.9,247.31 L118.4,247.3 L119.9,247.3 L121.4,247.29 L122.9,247.29 L124.4,247.28 L125.9,247.28 L127.4,247.27 L128.9,247.27 L130.4,247.26 L131.9,247.25 L133.4,247.25 L134.9,247.24 L136.4,247.23 L137.9,247.23 L139.4,247.22 L140.9,247.21 L142.4,247.21 L143.9,247.2 L145.4,247.19 L146.9,247.19 L148.4,247.18 L149.9,247.17 L151.4,247.16 L152.9,247.16 L154.4,247.15 L155.9,247.14 L157.4,247.13 L158.9,247.12 L160.4,247.12 L161.9,247.11 L163.4,247.1 L164.9,247.09 L166.4,247.08 L167.9,247.07 L169.4,247.06 L170.9,247.06 L172.4,247.05 L173.9,247.04 L175.4,247.03 L176.9,247.02 L178.4,247.01 L179.9,247 L181.4,246.99 L182.9,246.98 L184.4,246.96 L185.9,246.95 L187.4,246.93 L188.9,246.91 L190.4,246.89 L191.9,246.87 L193.4,246.84 L194.9,246.82 L196.4,246.79 L197.9,246.76 L199.4,246.73 L200.9,246.7 L202.4,246.67 L203.9,246.63 L205.4,246.6 L206.9,246.57 L208.4,246.53 L209.9,246.49 L211.4,246.46 L212.9,246.42 L214.4,246.38 L215.9,246.34 L217.4,246.3 L218.9,246.26 L220.4,246.22 L221.9,246.18 L223.4,246.14 L224.9,246.1 L226.4,246.07 L227.9,246.03 L229.4,245.99 L230.9,245.95 L232.4,245.91 L233.9,245.87 L235.4,245.83 L236.9,245.79 L238.4,245.76 L239.9,245.72 L241.4,245.69 L242.9,245.65 L244.4,245.62 L245.9,245.58 L247.4,245.55 L248.9,245.52 L250.4,245.49 L251.9,245.46 L253.4,245.44 L254.9,245.41 L256.4,245.38 L257.9,245.35 L259.4,245.33 L260.9,245.3 L262.4,245.28 L263.9,245.25 L265.4,245.23 L266.9,245.2 L268.4,245.18 L269.9,245.15 L271.4,245.13 L272.9,245.1 L274.4,245.08 L275.9,245.06 L277.4,245.03 L278.9,245.01 L280.4,244.98 L281.9,244.95 L283.4,244.93 L284.9,244.9 L286.4,244.87 L287.9,244.85 L289.4,244.82 L290.9,244.79 L292.4,244.76 L293.9,244.73 L295.4,244.7 L296.9,244.67 L298.4,244.64 L299.9,244.6 L301.4,244.57 L302.9,244.53 L304.4,244.49 L305.9,244.45 L307.4,244.41 L308.9,244.36 L310.4,244.32 L311.9,244.28 L313.4,244.23 L314.9,244.18 L316.4,244.14 L317.9,244.09 L319.4,244.05 L320.9,244.01 L322.4,243.96 L323.9,243.92 L325.4,243.88 L326.9,243.83 L328.4,243.79 L329.9,243.75 L331.4,243.71 L332.9,243.66 L334.4,243.62 L335.9,243.58 L337.4,243.54 L338.9,243.49 L340.4,243.45 L341.9,243.41 L343.4,243.37 L344.9,243.32 L346.4,243.28 L347.9,243.24 L349.4,243.2 L350.9,243.15 L352.4,243.11 L353.9,243.07 L355.4,243.02 L356.9,242.98 L358.4,242.94 L359.9,242.9 L361.4,242.85 L362.9,242.81 L364.4,242.77 L365.9,242.73 L367.4,242.68 L368.9,242.64 L370.4,242.6 L371.9,242.56 L373.4,242.51 L374.9,242.47 L376.4,242.43 L377.9,242.38 L379.4,242.34 L380.9,242.3 L382.4,242.26 L383.9,242.21 L385.4,242.17 L386.9,242.13 L388.4,242.09 L389.9,242.04 L391.4,242 L392.9,241.96 L394.4,241.92 L395.9,241.87 L397.4,241.83 L398.9,241.79 L400.4,241.74 L401.9,241.7 L403.4,241.66 L404.9,241.62 L406.4,241.57 L407.9,241.53 L409,241.5" stroke="#2297E6" stroke-width="1.3" fill="none"/>
<path d="M64.4,244 L65.9,244 L67.4,244 L68.9,244 L70.4,244 L71.9,244 L73.4,244 L74.9,244 L76.4,244 L77.9,244 L79.4,244 L80.9,244 L82.4,244 L83.9,244 L85.4,244 L86.9,244 L88.4,244 L89.9,244 L91.4,244 L92.9,244 L94.4,244 L95.9,244 L97.4,244 L98.9,244 L100.4,244 L101.9,244 L103.4,244 L104.9,244 L106.4,244 L107.9,244 L109.4,244 L110.9,244 L112.4,244 L113.9,244 L115.4,244 L116.9,244 L118.4,244 L119.9,244 L121.4,244 L122.9,244 L124.4,244 L125.9,244 L127.4,244 L128.9,244 L130.4,244 L131.9,244 L133.4,244 L134.9,244 L136.4,244 L137.9,244 L139.4,244 L140.9,244 L142.4,244 L143.9,244 L145.4,244 L146.9,244 L148.4,244 L149.9,244 L151.4,244 L152.9,244 L154.4,244 L155.9,244 L157.4,244 L158.9,244 L160.4,244 L161.9,244 L163.4,244 L164.9,244 L166.4,244 L167.9,244 L169.4,244 L170.9,244 L172.4,244 L173.9,244 L175.4,244 L176.9,244 L178.4,244 L179.9,244 L181.4,244 L182.9,244 L184.4,244 L185.9,244 L187.4,244 L188.9,244.01 L190.4,244.01 L191.9,244.01 L193.4,244.01 L194.9,244.02 L196.4,244.02 L197.9,244.02 L199.4,244.03 L200.9,244.03 L202.4,244.04 L203.9,244.04 L205.4,244.05 L206.9,244.05 L208.4,244.06 L209.9,244.06 L211.4,244.07 L212.9,244.07 L214.4,244.08 L215.9,244.08 L217.4,244.09 L218.9,244.09 L220.4,244.1 L221.9,244.11 L223.4,244.11 L224.9,244.12 L226.4,244.12 L227.9,244.13 L229.4,244.13 L230.9,244.14 L232.4,244.15 L233.9,244.15 L235.4,244.16 L236.9,244.16 L238.4,244.17 L239.9,244.17 L241.4,244.18 L242.9,244.18 L244.4,244.19 L245.9,244.19 L247.4,244.19 L248.9,244.2 L250.4,244.2 L251.9,244.2 L253.4,244.21 L254.9,244.21 L256.4,244.22 L257.9,244.22 L259.4,244.22 L260.9,244.23 L262.4,244.23 L263.9,244.24 L265.4,244.24 L266.9,244.24 L268.4,244.25 L269.9,244.25 L271.4,244.26 L272.9,244.26 L274.4,244.26 L275.9,244.27 L277.4,244.27 L278.9,244.27 L280.4,244.28 L281.9,244.28 L283.4,244.28 L284.9,244.29 L286.4,244.29 L287.9,244.29 L289.4,244.29 L290.9,244.29 L292.4,244.3 L293.9,244.3 L295.4,244.3 L296.9,244.3 L298.4,244.3 L299.9,244.3 L301.4,244.3 L302.9,244.28 L304.4,244.26 L305.9,244.23 L307.4,244.19 L308.9,244.15 L310.4,244.11 L311.9,244.06 L313.4,244.01 L314.9,243.96 L316.4,243.9 L317.9,243.85 L319.4,243.81 L320.9,243.76 L322.4,243.72 L323.9,243.69 L325.4,243.65 L326.9,243.61 L328.4,243.57 L329.9,243.53 L331.4,243.49 L332.9,243.45 L334.4,243.42 L335.9,243.38 L337.4,243.34 L338.9,243.3 L340.4,243.26 L341.9,243.22 L343.4,243.19 L344.9,243.15 L346.4,243.11 L347.9,243.07 L349.4,243.03 L350.9,242.99 L352.4,242.95 L353.9,242.92 L355.4,242.88 L356.9,242.84 L358.4,242.8 L359.9,242.76 L361.4,242.72 L362.9,242.68 L364.4,242.65 L365.9,242.61 L367.4,242.57 L368.9,242.53 L370.4,242.49 L371.9,242.45 L373.4,242.41 L374.9,242.38 L376.4,242.34 L377.9,242.3 L379.4,242.26 L380.9,242.22 L382.4,242.18 L383.9,242.14 L385.4,242.11 L386.9,242.07 L388.4,242.03 L389.9,241.99 L391.4,241.95 L392.9,241.91 L394.4,241.88 L395.9,241.84 L397.4,241.8 L398.9,241.76 L400.4,241.72 L401.9,241.68 L403.4,241.64 L404.9,241.61 L406.4,241.57 L407.9,241.53 L409,241.5" stroke="#CD0BBC" stroke-width="1.3" fill="none"/>
<path d="M64.4,257 L65.9,256.91 L67.4,256.83 L68.9,256.74 L70.4,256.65 L71.9,256.56 L73.4,256.46 L74.9,256.37 L76.4,256.27 L77.9,256.18 L79.4,256.08 L80.9,255.98 L82.4,255.88 L83.9,255.77 L85.4,255.67 L86.9,255.57 L88.4,255.46 L89.9,255.35 L91.4,255.24 L92.9,255.13 L94.4,255.02 L95.9,254.91 L97.4,254.8 L98.9,254.68 L100.4,254.57 L101.9,254.45 L103.4,254.33 L104.9,254.21 L106.4,254.09 L107.9,253.96 L109.4,253.84 L110.9,253.71 L112.4,253.58 L113.9,253.45 L115.4,253.31 L116.9,253.18 L118.4,253.04 L119.9,252.9 L121.4,252.77 L122.9,252.63 L124.4,252.49 L125.9,252.35 L127.4,252.2 L128.9,252.06 L130.4,251.92 L131.9,251.78 L133.4,251.63 L134.9,251.49 L136.4,251.35 L137.9,251.2 L139.4,251.06 L140.9,250.91 L142.4,250.76 L143.9,250.6 L145.4,250.44 L146.9,250.27 L148.4,250.09 L149.9,249.92 L151.4,249.74 L152.9,249.56 L154.4,249.37 L155.9,249.19 L157.4,249.01 L158.9,248.83 L160.4,248.65 L161.9,248.47 L163.4,248.3 L164.9,248.14 L166.4,247.98 L167.9,247.82 L169.4,247.67 L170.9,247.53 L172.4,247.4 L173.9,247.28 L175.4,247.17 L176.9,247.07 L178.4,246.98 L179.9,246.9 L181.4,246.84 L182.9,246.77 L184.4,246.7 L185.9,246.64 L187.4,246.57 L188.9,246.51 L190.4,246.45 L191.9,246.38 L193.4,246.32 L194.9,246.26 L196.4,246.2 L197.9,246.14 L199.4,246.08 L200.9,246.03 L202.4,245.97 L203.9,245.92 L205.4,245.86 L206.9,245.81 L208.4,245.76 L209.9,245.71 L211.4,245.66 L212.9,245.62 L214.4,245.57 L215.9,245.53 L217.4,245.48 L218.9,245.44 L220.4,245.4 L221.9,245.37 L223.4,245.33 L224.9,245.3 L226.4,245.26 L227.9,245.23 L229.4,245.2 L230.9,245.18 L232.4,245.15 L233.9,245.13 L235.4,245.1 L236.9,245.08 L238.4,245.07 L239.9,245.05 L241.4,245.04 L242.9,245.03 L244.4,245.02 L245.9,245.01 L247.4,245 L248.9,245 L250.4,245 L251.9,245 L253.4,245.01 L254.9,245.03 L256.4,245.04 L257.9,245.07 L259.4,245.09 L260.9,245.12 L262.4,245.15 L263.9,245.19 L265.4,245.23 L266.9,245.27 L268.4,245.31 L269.9,245.35 L271.4,245.39 L272.9,245.44 L274.4,245.48 L275.9,245.53 L277.4,245.57 L278.9,245.62 L280.4,245.66 L281.9,245.7 L283.4,245.74 L284.9,245.78 L286.4,245.82 L287.9,245.85 L289.4,245.88 L290.9,245.91 L292.4,245.94 L293.9,245.96 L295.4,245.98 L296.9,245.99 L298.4,246 L299.9,246 L301.4,245.99 L302.9,245.97 L304.4,245.93 L305.9,245.89 L307.4,245.83 L308.9,245.76 L310.4,245.69 L311.9,245.61 L313.4,245.53 L314.9,245.45 L316.4,245.36 L317.9,245.28 L319.4,245.21 L320.9,245.14 L322.4,245.08 L323.9,245.01 L325.4,244.95 L326.9,244.89 L328.4,244.83 L329.9,244.77 L331.4,244.7 L332.9,244.64 L334.4,244.58 L335.9,244.52 L337.4,244.46 L338.9,244.39 L340.4,244.33 L341.9,244.27 L343.4,244.21 L344.9,244.15 L346.4,244.08 L347.9,244.02 L349.4,243.96 L350.9,243.9 L352.4,243.84 L353.9,243.77 L355.4,243.71 L356.9,243.65 L358.4,243.59 L359.9,243.53 L361.4,243.47 L362.9,243.4 L364.4,243.34 L365.9,243.28 L367.4,243.22 L368.9,243.16 L370.4,243.09 L371.9,243.03 L373.4,242.97 L374.9,242.91 L376.4,242.85 L377.9,242.78 L379.4,242.72 L380.9,242.66 L382.4,242.6 L383.9,242.54 L385.4,242.47 L386.9,242.41 L388.4,242.35 L389.9,242.29 L391.4,242.23 L392.9,242.16 L394.4,242.1 L395.9,242.04 L397.4,241.98 L398.9,241.92 L400.4,241.86 L401.9,241.79 L403.4,241.73 L404.9,241.67 L406.4,241.61 L407.9,241.55 L409,241.5" stroke="#28E2E5" stroke-width="1.3" fill="none"/>
<path d="M64.4,248.7 L65.9,248.7 L67.4,248.7 L68.9,248.7 L70.4,248.7 L71.9,248.7 L73.4,248.7 L74.9,248.7 L76.4,248.7 L77.9,248.69 L79.4,248.69 L80.9,248.69 L82.4,248.69 L83.9,248.69 L85.4,248.69 L86.9,248.69 L88.4,248.68 L89.9,248.68 L91.4,248.68 L92.9,248.68 L94.4,248.68 L95.9,248.67 L97.4,248.67 L98.9,248.67 L100.4,248.67 L101.9,248.66 L103.4,248.66 L104.9,248.66 L106.4,248.65 L107.9,248.65 L109.4,248.65 L110.9,248.64 L112.4,248.64 L113.9,248.64 L115.4,248.63 L116.9,248.63 L118.4,248.62 L119.9,248.62 L121.4,248.62 L122.9,248.61 L124.4,248.61 L125.9,248.6 L127.4,248.6 L128.9,248.59 L130.4,248.59 L131.9,248.59 L133.4,248.58 L134.9,248.58 L136.4,248.57 L137.9,248.57 L139.4,248.56 L140.9,248.56 L142.4,248.55 L143.9,248.55 L145.4,248.54 L146.9,248.53 L148.4,248.53 L149.9,248.52 L151.4,248.52 L152.9,248.51 L154.4,248.51 L155.9,248.5 L157.4,248.5 L158.9,248.49 L160.4,248.48 L161.9,248.48 L163.4,248.47 L164.9,248.46 L166.4,248.46 L167.9,248.45 L169.4,248.45 L170.9,248.44 L172.4,248.43 L173.9,248.43 L175.4,248.42 L176.9,248.41 L178.4,248.41 L179.9,248.4 L181.4,248.39 L182.9,248.38 L184.4,248.38 L185.9,248.36 L187.4,248.35 L188.9,248.34 L190.4,248.33 L191.9,248.31 L193.4,248.3 L194.9,248.28 L196.4,248.26 L197.9,248.25 L199.4,248.23 L200.9,248.21 L202.4,248.19 L203.9,248.17 L205.4,248.15 L206.9,248.13 L208.4,248.11 L209.9,248.09 L211.4,248.06 L212.9,248.04 L214.4,248.02 L215.9,248 L217.4,247.98 L218.9,247.95 L220.4,247.93 L221.9,247.91 L223.4,247.89 L224.9,247.87 L226.4,247.85 L227.9,247.83 L229.4,247.81 L230.9,247.79 L232.4,247.77 L233.9,247.75 L235.4,247.73 L236.9,247.71 L238.4,247.7 L239.9,247.68 L241.4,247.67 L242.9,247.65 L244.4,247.64 L245.9,247.63 L247.4,247.62 L248.9,247.61 L250.4,247.6 L251.9,247.59 L253.4,247.58 L254.9,247.58 L256.4,247.57 L257.9,247.56 L259.4,247.56 L260.9,247.55 L262.4,247.55 L263.9,247.54 L265.4,247.54 L266.9,247.54 L268.4,247.53 L269.9,247.53 L271.4,247.53 L272.9,247.52 L274.4,247.52 L275.9,247.51 L277.4,247.51 L278.9,247.51 L280.4,247.5 L281.9,247.5 L283.4,247.49 L284.9,247.49 L286.4,247.48 L287.9,247.48 L289.4,247.47 L290.9,247.46 L292.4,247.45 L293.9,247.44 L295.4,247.43 L296.9,247.42 L298.4,247.41 L299.9,247.4 L301.4,247.38 L302.9,247.34 L304.4,247.29 L305.9,247.22 L307.4,247.15 L308.9,247.06 L310.4,246.97 L311.9,246.87 L313.4,246.77 L314.9,246.66 L316.4,246.56 L317.9,246.46 L319.4,246.36 L320.9,246.27 L322.4,246.19 L323.9,246.11 L325.4,246.03 L326.9,245.94 L328.4,245.86 L329.9,245.78 L331.4,245.7 L332.9,245.62 L334.4,245.54 L335.9,245.46 L337.4,245.38 L338.9,245.29 L340.4,245.21 L341.9,245.13 L343.4,245.05 L344.9,244.97 L346.4,244.89 L347.9,244.81 L349.4,244.73 L350.9,244.64 L352.4,244.56 L353.9,244.48 L355.4,244.4 L356.9,244.32 L358.4,244.24 L359.9,244.16 L361.4,244.08 L362.9,244 L364.4,243.91 L365.9,243.83 L367.4,243.75 L368.9,243.67 L370.4,243.59 L371.9,243.51 L373.4,243.43 L374.9,243.35 L376.4,243.26 L377.9,243.18 L379.4,243.1 L380.9,243.02 L382.4,242.94 L383.9,242.86 L385.4,242.78 L386.9,242.7 L388.4,242.62 L389.9,242.53 L391.4,242.45 L392.9,242.37 L394.4,242.29 L395.9,242.21 L397.4,242.13 L398.9,242.05 L400.4,241.97 L401.9,241.88 L403.4,241.8 L404.9,241.72 L406.4,241.64 L407.9,241.56 L409,241.5" stroke="#28E2E5" stroke-width="1.3" fill="none"/>
<path d="M64.4,251.8 L65.9,251.8 L67.4,251.8 L68.9,251.8 L70.4,251.8 L71.9,251.8 L73.4,251.8 L74.9,251.79 L76.4,251.79 L77.9,251.79 L79.4,251.79 L80.9,251.79 L82.4,251.78 L83.9,251.78 L85.4,251.78 L86.9,251.78 L88.4,251.77 L89.9,251.77 L91.4,251.77 L92.9,251.76 L94.4,251.76 L95.9,251.75 L97.4,251.75 L98.9,251.75 L100.4,251.74 L101.9,251.74 L103.4,251.73 L104.9,251.73 L106.4,251.72 L107.9,251.72 L109.4,251.71 L110.9,251.7 L112.4,251.7 L113.9,251.69 L115.4,251.69 L116.9,251.68 L118.4,251.67 L119.9,251.67 L121.4,251.66 L122.9,251.65 L124.4,251.65 L125.9,251.64 L127.4,251.63 L128.9,251.62 L130.4,251.62 L131.9,251.61 L133.4,251.6 L134.9,251.59 L136.4,251.58 L137.9,251.58 L139.4,251.57 L140.9,251.56 L142.4,251.55 L143.9,251.54 L145.4,251.53 L146.9,251.52 L148.4,251.51 L149.9,251.5 L151.4,251.5 L152.9,251.49 L154.4,251.48 L155.9,251.47 L157.4,251.46 L158.9,251.45 L160.4,251.44 L161.9,251.43 L163.4,251.42 L164.9,251.41 L166.4,251.4 L167.9,251.39 L169.4,251.38 L170.9,251.37 L172.4,251.35 L173.9,251.34 L175.4,251.33 L176.9,251.32 L178.4,251.31 L179.9,251.3 L181.4,251.29 L182.9,251.28 L184.4,251.26 L185.9,251.25 L187.4,251.23 L188.9,251.22 L190.4,251.2 L191.9,251.18 L193.4,251.16 L194.9,251.14 L196.4,251.12 L197.9,251.1 L199.4,251.08 L200.9,251.06 L202.4,251.03 L203.9,251.01 L205.4,250.98 L206.9,250.96 L208.4,250.93 L209.9,250.9 L211.4,250.88 L212.9,250.85 L214.4,250.82 L215.9,250.79 L217.4,250.76 L218.9,250.73 L220.4,250.71 L221.9,250.68 L223.4,250.65 L224.9,250.61 L226.4,250.58 L227.9,250.55 L229.4,250.52 L230.9,250.49 L232.4,250.46 L233.9,250.43 L235.4,250.4 L236.9,250.37 L238.4,250.33 L239.9,250.3 L241.4,250.27 L242.9,250.24 L244.4,250.21 L245.9,250.18 L247.4,250.14 L248.9,250.11 L250.4,250.08 L251.9,250.04 L253.4,250.01 L254.9,249.98 L256.4,249.94 L257.9,249.91 L259.4,249.87 L260.9,249.84 L262.4,249.8 L263.9,249.77 L265.4,249.73 L266.9,249.69 L268.4,249.65 L269.9,249.61 L271.4,249.57 L272.9,249.53 L274.4,249.49 L275.9,249.44 L277.4,249.4 L278.9,249.35 L280.4,249.31 L281.9,249.26 L283.4,249.21 L284.9,249.16 L286.4,249.11 L287.9,249.06 L289.4,249.01 L290.9,248.96 L292.4,248.9 L293.9,248.84 L295.4,248.79 L296.9,248.73 L298.4,248.67 L299.9,248.6 L301.4,248.54 L302.9,248.46 L304.4,248.38 L305.9,248.29 L307.4,248.19 L308.9,248.09 L310.4,247.99 L311.9,247.88 L313.4,247.77 L314.9,247.66 L316.4,247.55 L317.9,247.45 L319.4,247.34 L320.9,247.24 L322.4,247.14 L323.9,247.04 L325.4,246.95 L326.9,246.85 L328.4,246.75 L329.9,246.65 L331.4,246.55 L332.9,246.46 L334.4,246.36 L335.9,246.26 L337.4,246.16 L338.9,246.07 L340.4,245.97 L341.9,245.87 L343.4,245.77 L344.9,245.68 L346.4,245.58 L347.9,245.48 L349.4,245.38 L350.9,245.28 L352.4,245.19 L353.9,245.09 L355.4,244.99 L356.9,244.89 L358.4,244.8 L359.9,244.7 L361.4,244.6 L362.9,244.5 L364.4,244.41 L365.9,244.31 L367.4,244.21 L368.9,244.11 L370.4,244.01 L371.9,243.92 L373.4,243.82 L374.9,243.72 L376.4,243.62 L377.9,243.53 L379.4,243.43 L380.9,243.33 L382.4,243.23 L383.9,243.13 L385.4,243.04 L386.9,242.94 L388.4,242.84 L389.9,242.74 L391.4,242.65 L392.9,242.55 L394.4,242.45 L395.9,242.35 L397.4,242.26 L398.9,242.16 L400.4,242.06 L401.9,241.96 L403.4,241.86 L404.9,241.77 L406.4,241.67 L407.9,241.57 L409,241.5" stroke="#61D04F" stroke-width="1.3" fill="none"/>
<path d="M64.4,241 L65.9,241 L67.4,241 L68.9,241 L70.4,241 L71.9,241 L73.4,241 L74.9,241 L76.4,241 L77.9,241 L79.4,241 L80.9,241.01 L82.4,241.01 L83.9,241.01 L85.4,241.01 L86.9,241.01 L88.4,241.01 L89.9,241.01 L91.4,241.02 L92.9,241.02 L94.4,241.02 L95.9,241.02 L97.4,241.02 L98.9,241.03 L100.4,241.03 L101.9,241.03 L103.4,241.03 L104.9,241.04 L106.4,241.04 L107.9,241.04 L109.4,241.04 L110.9,241.05 L112.4,241.05 L113.9,241.05 L115.4,241.06 L116.9,241.06 L118.4,241.06 L119.9,241.07 L121.4,241.07 L122.9,241.08 L124.4,241.08 L125.9,241.08 L127.4,241.09 L128.9,241.09 L130.4,241.1 L131.9,241.1 L133.4,241.1 L134.9,241.11 L136.4,241.11 L137.9,241.12 L139.4,241.12 L140.9,241.13 L142.4,241.13 L143.9,241.14 L145.4,241.14 L146.9,241.15 L148.4,241.15 L149.9,241.16 L151.4,241.17 L152.9,241.17 L154.4,241.18 L155.9,241.18 L157.4,241.19 L158.9,241.2 L160.4,241.2 L161.9,241.21 L163.4,241.23 L164.9,241.25 L166.4,241.28 L167.9,241.31 L169.4,241.35 L170.9,241.39 L172.4,241.44 L173.9,241.49 L175.4,241.55 L176.9,241.61 L178.4,241.67 L179.9,241.74 L181.4,241.82 L182.9,241.89 L184.4,241.98 L185.9,242.06 L187.4,242.15 L188.9,242.24 L190.4,242.34 L191.9,242.44 L193.4,242.54 L194.9,242.64 L196.4,242.75 L197.9,242.86 L199.4,242.97 L200.9,243.09 L202.4,243.2 L203.9,243.32 L205.4,243.44 L206.9,243.57 L208.4,243.69 L209.9,243.82 L211.4,243.95 L212.9,244.08 L214.4,244.21 L215.9,244.34 L217.4,244.47 L218.9,244.61 L220.4,244.74 L221.9,244.87 L223.4,245.01 L224.9,245.15 L226.4,245.28 L227.9,245.42 L229.4,245.55 L230.9,245.69 L232.4,245.82 L233.9,245.96 L235.4,246.09 L236.9,246.23 L238.4,246.36 L239.9,246.49 L241.4,246.63 L242.9,246.79 L244.4,246.96 L245.9,247.15 L247.4,247.35 L248.9,247.56 L250.4,247.79 L251.9,248.01 L253.4,248.25 L254.9,248.48 L256.4,248.72 L257.9,248.96 L259.4,249.19 L260.9,249.43 L262.4,249.65 L263.9,249.87 L265.4,250.07 L266.9,250.27 L268.4,250.45 L269.9,250.62 L271.4,250.77 L272.9,250.9 L274.4,251.01 L275.9,251.09 L277.4,251.16 L278.9,251.19 L280.4,251.2 L281.9,251.1 L283.4,250.91 L284.9,250.65 L286.4,250.38 L287.9,250.11 L289.4,249.88 L290.9,249.74 L292.4,249.76 L293.9,250.76 L295.4,251.86 L296.9,252 L298.4,251.99 L299.9,251.99 L301.4,251.97 L302.9,251.95 L304.4,251.93 L305.9,251.91 L307.4,251.87 L308.9,251.84 L310.4,251.8 L311.9,251.76 L313.4,251.71 L314.9,251.66 L316.4,251.61 L317.9,251.55 L319.4,251.49 L320.9,251.43 L322.4,251.36 L323.9,251.29 L325.4,251.21 L326.9,251.1 L328.4,250.89 L329.9,250.62 L331.4,250.3 L332.9,249.94 L334.4,249.56 L335.9,249.19 L337.4,248.84 L338.9,248.53 L340.4,248.27 L341.9,248.07 L343.4,247.9 L344.9,247.74 L346.4,247.6 L347.9,247.46 L349.4,247.33 L350.9,247.19 L352.4,247.06 L353.9,246.92 L355.4,246.77 L356.9,246.63 L358.4,246.48 L359.9,246.33 L361.4,246.18 L362.9,246.04 L364.4,245.89 L365.9,245.74 L367.4,245.59 L368.9,245.45 L370.4,245.3 L371.9,245.15 L373.4,245 L374.9,244.85 L376.4,244.71 L377.9,244.56 L379.4,244.41 L380.9,244.26 L382.4,244.12 L383.9,243.97 L385.4,243.82 L386.9,243.67 L388.4,243.53 L389.9,243.38 L391.4,243.23 L392.9,243.08 L394.4,242.94 L395.9,242.79 L397.4,242.64 L398.9,242.49 L400.4,242.35 L401.9,242.2 L403.4,242.05 L404.9,241.9 L406.4,241.76 L407.9,241.61 L409,241.5" stroke="#DF536B" stroke-width="1.3" fill="none"/>
<path d="M64.4,256 L65.9,256 L67.4,256 L68.9,256 L70.4,256 L71.9,256 L73.4,256 L74.9,255.99 L76.4,255.99 L77.9,255.99 L79.4,255.99 L80.9,255.99 L82.4,255.98 L83.9,255.98 L85.4,255.98 L86.9,255.98 L88.4,255.97 L89.9,255.97 L91.4,255.97 L92.9,255.96 L94.4,255.96 L95.9,255.95 L97.4,255.95 L98.9,255.94 L100.4,255.94 L101.9,255.93 L103.4,255.93 L104.9,255.92 L106.4,255.92 L107.9,255.91 L109.4,255.91 L110.9,255.9 L112.4,255.89 L113.9,255.89 L115.4,255.88 L116.9,255.87 L118.4,255.86 L119.9,255.86 L121.4,255.85 L122.9,255.84 L124.4,255.83 L125.9,255.82 L127.4,255.82 L128.9,255.81 L130.4,255.8 L131.9,255.79 L133.4,255.78 L134.9,255.77 L136.4,255.76 L137.9,255.75 L139.4,255.74 L140.9,255.73 L142.4,255.72 L143.9,255.71 L145.4,255.7 L146.9,255.69 L148.4,255.68 L149.9,255.67 L151.4,255.65 L152.9,255.64 L154.4,255.63 L155.9,255.62 L157.4,255.61 L158.9,255.59 L160.4,255.58 L161.9,255.57 L163.4,255.56 L164.9,255.54 L166.4,255.53 L167.9,255.52 L169.4,255.5 L170.9,255.49 L172.4,255.47 L173.9,255.46 L175.4,255.45 L176.9,255.43 L178.4,255.42 L179.9,255.4 L181.4,255.38 L182.9,255.36 L184.4,255.34 L185.9,255.31 L187.4,255.28 L188.9,255.25 L190.4,255.21 L191.9,255.17 L193.4,255.12 L194.9,255.08 L196.4,255.03 L197.9,254.97 L199.4,254.92 L200.9,254.86 L202.4,254.8 L203.9,254.74 L205.4,254.67 L206.9,254.6 L208.4,254.53 L209.9,254.46 L211.4,254.38 L212.9,254.31 L214.4,254.23 L215.9,254.15 L217.4,254.06 L218.9,253.98 L220.4,253.89 L221.9,253.81 L223.4,253.72 L224.9,253.63 L226.4,253.54 L227.9,253.44 L229.4,253.35 L230.9,253.26 L232.4,253.16 L233.9,253.06 L235.4,252.97 L236.9,252.87 L238.4,252.77 L239.9,252.67 L241.4,252.57 L242.9,252.47 L244.4,252.37 L245.9,252.27 L247.4,252.17 L248.9,252.07 L250.4,251.97 L251.9,251.87 L253.4,251.76 L254.9,251.64 L256.4,251.52 L257.9,251.4 L259.4,251.27 L260.9,251.14 L262.4,251 L263.9,250.86 L265.4,250.72 L266.9,250.57 L268.4,250.42 L269.9,250.27 L271.4,250.11 L272.9,249.95 L274.4,249.79 L275.9,249.63 L277.4,249.47 L278.9,249.3 L280.4,249.14 L281.9,248.97 L283.4,248.81 L284.9,248.64 L286.4,248.47 L287.9,248.31 L289.4,248.14 L290.9,247.98 L292.4,247.81 L293.9,247.65 L295.4,247.49 L296.9,247.32 L298.4,247.17 L299.9,247.01 L301.4,246.85 L302.9,246.69 L304.4,246.53 L305.9,246.36 L307.4,246.18 L308.9,246.01 L310.4,245.83 L311.9,245.65 L313.4,245.46 L314.9,245.28 L316.4,245.1 L317.9,244.92 L319.4,244.73 L320.9,244.55 L322.4,244.37 L323.9,244.2 L325.4,244.02 L326.9,243.85 L328.4,243.68 L329.9,243.52 L331.4,243.36 L332.9,243.2 L334.4,243.05 L335.9,242.91 L337.4,242.77 L338.9,242.64 L340.4,242.52 L341.9,242.41 L343.4,242.3 L344.9,242.21 L346.4,242.12 L347.9,242.03 L349.4,241.95 L350.9,241.87 L352.4,241.8 L353.9,241.73 L355.4,241.67 L356.9,241.61 L358.4,241.55 L359.9,241.5 L360,241.5" stroke="#000000" stroke-width="1.3" fill="none"/>
<path d="M64.4,259 L65.9,259 L67.4,259 L68.9,259 L70.4,259 L71.9,259 L73.4,259 L74.9,259 L76.4,259 L77.9,258.99 L79.4,258.99 L80.9,258.99 L82.4,258.99 L83.9,258.99 L85.4,258.99 L86.9,258.98 L88.4,258.98 L89.9,258.98 L91.4,258.98 L92.9,258.97 L94.4,258.97 L95.9,258.97 L97.4,258.96 L98.9,258.96 L100.4,258.96 L101.9,258.95 L103.4,258.95 L104.9,258.95 L106.4,258.94 L107.9,258.94 L109.4,258.93 L110.9,258.93 L112.4,258.93 L113.9,258.92 L115.4,258.92 L116.9,258.91 L118.4,258.91 L119.9,258.9 L121.4,258.9 L122.9,258.89 L124.4,258.89 L125.9,258.88 L127.4,258.87 L128.9,258.87 L130.4,258.86 L131.9,258.86 L133.4,258.85 L134.9,258.84 L136.4,258.84 L137.9,258.83 L139.4,258.82 L140.9,258.82 L142.4,258.81 L143.9,258.8 L145.4,258.8 L146.9,258.79 L148.4,258.78 L149.9,258.77 L151.4,258.77 L152.9,258.76 L154.4,258.75 L155.9,258.74 L157.4,258.74 L158.9,258.73 L160.4,258.72 L161.9,258.71 L163.4,258.7 L164.9,258.69 L166.4,258.68 L167.9,258.68 L169.4,258.67 L170.9,258.66 L172.4,258.65 L173.9,258.64 L175.4,258.63 L176.9,258.62 L178.4,258.61 L179.9,258.6 L181.4,258.59 L182.9,258.58 L184.4,258.56 L185.9,258.55 L187.4,258.53 L188.9,258.51 L190.4,258.48 L191.9,258.46 L193.4,258.43 L194.9,258.4 L196.4,258.37 L197.9,258.34 L199.4,258.31 L200.9,258.28 L202.4,258.24 L203.9,258.21 L205.4,258.17 L206.9,258.13 L208.4,258.09 L209.9,258.05 L211.4,258.01 L212.9,257.96 L214.4,257.92 L215.9,257.87 L217.4,257.83 L218.9,257.78 L220.4,257.74 L221.9,257.69 L223.4,257.64 L224.9,257.6 L226.4,257.55 L227.9,257.5 L229.4,257.45 L230.9,257.4 L232.4,257.35 L233.9,257.31 L235.4,257.26 L236.9,257.21 L238.4,257.16 L239.9,257.11 L241.4,257.06 L242.9,257.02 L244.4,256.97 L245.9,256.92 L247.4,256.88 L248.9,256.83 L250.4,256.79 L251.9,256.74 L253.4,256.7 L254.9,256.66 L256.4,256.61 L257.9,256.57 L259.4,256.52 L260.9,256.48 L262.4,256.43 L263.9,256.38 L265.4,256.34 L266.9,256.29 L268.4,256.24 L269.9,256.19 L271.4,256.13 L272.9,256.08 L274.4,256.02 L275.9,255.97 L277.4,255.91 L278.9,255.85 L280.4,255.78 L281.9,255.72 L283.4,255.65 L284.9,255.57 L286.4,255.5 L287.9,255.42 L289.4,255.34 L290.9,255.26 L292.4,255.17 L293.9,255.08 L295.4,254.99 L296.9,254.9 L298.4,254.8 L299.9,254.71 L301.4,254.61 L302.9,254.51 L304.4,254.41 L305.9,254.31 L307.4,254.21 L308.9,254.11 L310.4,254.01 L311.9,253.91 L313.4,253.81 L314.9,253.71 L316.4,253.61 L317.9,253.5 L319.4,253.4 L320.9,253.3 L322.4,253.21 L323.9,253.11 L325.4,253.01 L326.9,252.92 L328.4,252.83 L329.9,252.73 L331.4,252.64 L332.9,252.55 L334.4,252.47 L335.9,252.38 L337.4,252.29 L338.9,252.2 L340.4,252.12 L341.9,252.03 L343.4,251.94 L344.9,251.86 L346.4,251.77 L347.9,251.68 L349.4,251.59 L350.9,251.49 L352.4,251.4 L353.9,251.31 L355.4,251.21 L356.9,251.11 L358.4,251.01 L359.9,250.9 L361.4,250.79 L362.9,250.68 L364.4,250.57 L365.9,250.45 L367.4,250.33 L368.9,250.21 L370.4,250.08 L371.9,249.95 L373.4,249.8 L374.9,249.64 L376.4,249.47 L377.9,249.29 L379.4,249.11 L380.9,248.92 L382.4,248.73 L383.9,248.53 L385.4,248.34 L386.9,248.15 L388.4,247.97 L389.9,247.79 L391.4,247.61 L392.9,247.43 L394.4,247.26 L395.9,247.08 L397.4,246.9 L398.9,246.71 L400.4,246.51 L401.9,246.31 L403.4,246.09 L404.9,245.86 L406.4,245.62 L407.9,245.36 L409.4,245.08 L410.9,244.73 L412.4,244.3 L413.9,243.82 L415.4,243.33 L416.9,242.86 L418.4,242.44 L419.9,242.12 L421.4,241.87 L422.9,241.67 L424.4,241.51 L424.5,241.5" stroke="#000000" stroke-width="1.3" fill="none"/>
<path d="M64.4,278.3 L65.9,278.3 L67.4,278.29 L68.9,278.27 L70.4,278.25 L71.9,278.23 L73.4,278.2 L74.9,278.16 L76.4,278.12 L77.9,278.08 L79.4,278.03 L80.9,277.98 L82.4,277.92 L83.9,277.86 L85.4,277.79 L86.9,277.72 L88.4,277.65 L89.9,277.58 L91.4,277.5 L92.9,277.42 L94.4,277.33 L95.9,277.24 L97.4,277.15 L98.9,277.06 L100.4,276.97 L101.9,276.87 L103.4,276.77 L104.9,276.67 L106.4,276.57 L107.9,276.47 L109.4,276.37 L110.9,276.26 L112.4,276.16 L113.9,276.05 L115.4,275.94 L116.9,275.83 L118.4,275.71 L119.9,275.58 L121.4,275.43 L122.9,275.27 L124.4,275.1 L125.9,274.92 L127.4,274.74 L128.9,274.54 L130.4,274.33 L131.9,274.12 L133.4,273.89 L134.9,273.66 L136.4,273.43 L137.9,273.19 L139.4,272.94 L140.9,272.69 L142.4,272.43 L143.9,272.17 L145.4,271.91 L146.9,271.64 L148.4,271.38 L149.9,271.11 L151.4,270.84 L152.9,270.57 L154.4,270.3 L155.9,270.04 L157.4,269.77 L158.9,269.51 L160.4,269.24 L161.9,268.99 L163.4,268.73 L164.9,268.48 L166.4,268.24 L167.9,267.99 L169.4,267.75 L170.9,267.5 L172.4,267.25 L173.9,267 L175.4,266.75 L176.9,266.5 L178.4,266.24 L179.9,265.98 L181.4,265.71 L182.9,265.44 L184.4,265.17 L185.9,264.89 L187.4,264.6 L188.9,264.3 L190.4,264 L191.9,263.69 L193.4,263.39 L194.9,263.07 L196.4,262.76 L197.9,262.44 L199.4,262.12 L200.9,261.79 L202.4,261.45 L203.9,261.11 L205.4,260.76 L206.9,260.41 L208.4,260.04 L209.9,259.67 L211.4,259.29 L212.9,258.91 L214.4,258.51 L215.9,258.1 L217.4,257.68 L218.9,257.25 L220.4,256.81 L221.9,256.35 L223.4,255.88 L224.9,255.35 L226.4,254.78 L227.9,254.17 L229.4,253.54 L230.9,252.89 L232.4,252.24 L233.9,251.6 L235.4,250.97 L236.9,250.37 L238.4,249.81 L239.9,249.29 L241.4,248.76 L242.9,248.23 L244.4,247.7 L245.9,247.19 L247.4,246.69 L248.9,246.22 L250.4,245.78 L251.9,245.37 L253.4,245 L254.9,244.68 L256.4,244.4 L257.9,244.12 L259.4,243.85 L260.9,243.59 L262.4,243.35 L263.9,243.11 L265.4,242.89 L266.9,242.69 L268.4,242.51 L269.9,242.35 L271.4,242.21 L272.9,242.1 L274.4,242.02 L275.9,241.97 L277.4,241.92 L278.9,241.87 L280.4,241.82 L281.9,241.78 L283.4,241.74 L284.9,241.7 L286.4,241.66 L287.9,241.63 L289.4,241.6 L290.9,241.58 L292.4,241.55 L293.9,241.53 L295.4,241.52 L296.9,241.51 L298.4,241.5 L299.9,241.5 L300,241.5" stroke="#61D04F" stroke-width="1.3" fill="none"/>
<path d="M64.4,277.6 L65.9,277.6 L67.4,277.59 L68.9,277.57 L70.4,277.55 L71.9,277.53 L73.4,277.5 L74.9,277.46 L76.4,277.42 L77.9,277.38 L79.4,277.33 L80.9,277.27 L82.4,277.21 L83.9,277.15 L85.4,277.09 L86.9,277.02 L88.4,276.94 L89.9,276.87 L91.4,276.79 L92.9,276.71 L94.4,276.62 L95.9,276.53 L97.4,276.44 L98.9,276.35 L100.4,276.26 L101.9,276.16 L103.4,276.06 L104.9,275.97 L106.4,275.86 L107.9,275.76 L109.4,275.66 L110.9,275.56 L112.4,275.45 L113.9,275.35 L115.4,275.24 L116.9,275.13 L118.4,275.02 L119.9,274.89 L121.4,274.75 L122.9,274.61 L124.4,274.45 L125.9,274.29 L127.4,274.11 L128.9,273.93 L130.4,273.75 L131.9,273.55 L133.4,273.35 L134.9,273.14 L136.4,272.93 L137.9,272.71 L139.4,272.49 L140.9,272.26 L142.4,272.01 L143.9,271.74 L145.4,271.46 L146.9,271.16 L148.4,270.85 L149.9,270.52 L151.4,270.18 L152.9,269.84 L154.4,269.48 L155.9,269.12 L157.4,268.75 L158.9,268.38 L160.4,268.01 L161.9,267.64 L163.4,267.26 L164.9,266.89 L166.4,266.53 L167.9,266.17 L169.4,265.81 L170.9,265.47 L172.4,265.13 L173.9,264.81 L175.4,264.49 L176.9,264.18 L178.4,263.87 L179.9,263.57 L181.4,263.27 L182.9,262.97 L184.4,262.68 L185.9,262.38 L187.4,262.08 L188.9,261.78 L190.4,261.47 L191.9,261.15 L193.4,260.83 L194.9,260.5 L196.4,260.16 L197.9,259.81 L199.4,259.45 L200.9,259.07 L202.4,258.69 L203.9,258.29 L205.4,257.87 L206.9,257.45 L208.4,257.01 L209.9,256.55 L211.4,256.07 L212.9,255.58 L214.4,255.06 L215.9,254.51 L217.4,253.93 L218.9,253.32 L220.4,252.69 L221.9,252.04 L223.4,251.37 L224.9,250.69 L226.4,250.01 L227.9,249.32 L229.4,248.54 L230.9,247.71 L232.4,246.85 L233.9,246 L235.4,245.22 L236.9,244.53 L238.4,243.97 L239.9,243.56 L241.4,243.19 L242.9,242.83 L244.4,242.52 L245.9,242.24 L247.4,242.03 L248.9,241.87 L250.4,241.78 L251.9,241.72 L253.4,241.66 L254.9,241.61 L256.4,241.57 L257.9,241.54 L259.4,241.52 L260.9,241.5 L262,241.5" stroke="#000000" stroke-width="1.3" fill="none"/>
<path d="M64.4,283.1 L65.9,283.1 L67.4,283.1 L68.9,283.1 L70.4,283.1 L71.9,283.09 L73.4,283.09 L74.9,283.09 L76.4,283.08 L77.9,283.08 L79.4,283.07 L80.9,283.06 L82.4,283.06 L83.9,283.05 L85.4,283.04 L86.9,283.04 L88.4,283.03 L89.9,283.02 L91.4,283.01 L92.9,283 L94.4,282.99 L95.9,282.98 L97.4,282.97 L98.9,282.96 L100.4,282.94 L101.9,282.93 L103.4,282.92 L104.9,282.91 L106.4,282.89 L107.9,282.88 L109.4,282.87 L110.9,282.85 L112.4,282.84 L113.9,282.82 L115.4,282.81 L116.9,282.79 L118.4,282.77 L119.9,282.76 L121.4,282.74 L122.9,282.72 L124.4,282.71 L125.9,282.69 L127.4,282.67 L128.9,282.65 L130.4,282.64 L131.9,282.62 L133.4,282.6 L134.9,282.58 L136.4,282.56 L137.9,282.54 L139.4,282.52 L140.9,282.5 L142.4,282.49 L143.9,282.47 L145.4,282.45 L146.9,282.43 L148.4,282.41 L149.9,282.39 L151.4,282.36 L152.9,282.34 L154.4,282.32 L155.9,282.29 L157.4,282.26 L158.9,282.23 L160.4,282.2 L161.9,282.17 L163.4,282.14 L164.9,282.1 L166.4,282.07 L167.9,282.03 L169.4,281.99 L170.9,281.95 L172.4,281.91 L173.9,281.87 L175.4,281.83 L176.9,281.79 L178.4,281.74 L179.9,281.7 L181.4,281.65 L182.9,281.6 L184.4,281.55 L185.9,281.5 L187.4,281.45 L188.9,281.4 L190.4,281.35 L191.9,281.3 L193.4,281.24 L194.9,281.19 L196.4,281.13 L197.9,281.08 L199.4,281.02 L200.9,280.96 L202.4,280.9 L203.9,280.85 L205.4,280.79 L206.9,280.73 L208.4,280.67 L209.9,280.61 L211.4,280.54 L212.9,280.48 L214.4,280.42 L215.9,280.36 L217.4,280.29 L218.9,280.23 L220.4,280.16 L221.9,280.09 L223.4,280.02 L224.9,279.94 L226.4,279.87 L227.9,279.79 L229.4,279.71 L230.9,279.63 L232.4,279.54 L233.9,279.46 L235.4,279.37 L236.9,279.28 L238.4,279.19 L239.9,279.09 L241.4,279 L242.9,278.9 L244.4,278.8 L245.9,278.7 L247.4,278.6 L248.9,278.49 L250.4,278.39 L251.9,278.28 L253.4,278.17 L254.9,278.06 L256.4,277.94 L257.9,277.82 L259.4,277.71 L260.9,277.59 L262.4,277.47 L263.9,277.34 L265.4,277.21 L266.9,277.08 L268.4,276.94 L269.9,276.79 L271.4,276.64 L272.9,276.47 L274.4,276.3 L275.9,276.12 L277.4,275.94 L278.9,275.75 L280.4,275.55 L281.9,275.33 L283.4,275.11 L284.9,274.87 L286.4,274.62 L287.9,274.37 L289.4,274.1 L290.9,273.82 L292.4,273.54 L293.9,273.25 L295.4,272.95 L296.9,272.65 L298.4,272.34 L299.9,272.03 L301.4,271.71 L302.9,271.4 L304.4,271.08 L305.9,270.76 L307.4,270.44 L308.9,270.12 L310.4,269.8 L311.9,269.48 L313.4,269.16 L314.9,268.83 L316.4,268.5 L317.9,268.16 L319.4,267.82 L320.9,267.48 L322.4,267.13 L323.9,266.78 L325.4,266.42 L326.9,266.06 L328.4,265.7 L329.9,265.34 L331.4,264.97 L332.9,264.6 L334.4,264.23 L335.9,263.86 L337.4,263.48 L338.9,263.11 L340.4,262.73 L341.9,262.35 L343.4,261.96 L344.9,261.58 L346.4,261.19 L347.9,260.8 L349.4,260.4 L350.9,260.01 L352.4,259.61 L353.9,259.2 L355.4,258.8 L356.9,258.39 L358.4,257.97 L359.9,257.56 L361.4,257.14 L362.9,256.72 L364.4,256.29 L365.9,255.87 L367.4,255.44 L368.9,255 L370.4,254.56 L371.9,254.12 L373.4,253.68 L374.9,253.22 L376.4,252.76 L377.9,252.3 L379.4,251.83 L380.9,251.35 L382.4,250.87 L383.9,250.39 L385.4,249.91 L386.9,249.42 L388.4,248.94 L389.9,248.45 L391.4,247.96 L392.9,247.47 L394.4,246.99 L395.9,246.5 L397.4,245.98 L398.9,245.43 L400.4,244.86 L401.9,244.29 L403.4,243.75 L404.9,243.23 L406.4,242.77 L407.9,242.38 L409.4,242.08 L410.9,241.85 L412.4,241.65 L413.9,241.51 L414,241.5" stroke="#2297E6" stroke-width="1.3" fill="none"/>
<path d="M64.4,351.4 L65.9,351.26 L67.4,351.1 L68.9,350.94 L70.4,350.78 L71.9,350.6 L73.4,350.42 L74.9,350.23 L76.4,350.04 L77.9,349.84 L79.4,349.63 L80.9,349.42 L82.4,349.2 L83.9,348.98 L85.4,348.75 L86.9,348.52 L88.4,348.28 L89.9,348.04 L91.4,347.79 L92.9,347.54 L94.4,347.29 L95.9,347.03 L97.4,346.77 L98.9,346.51 L100.4,346.24 L101.9,345.96 L103.4,345.68 L104.9,345.39 L106.4,345.09 L107.9,344.79 L109.4,344.48 L110.9,344.16 L112.4,343.83 L113.9,343.49 L115.4,343.15 L116.9,342.79 L118.4,342.43 L119.9,342.06 L121.4,341.68 L122.9,341.3 L124.4,340.9 L125.9,340.49 L127.4,340.08 L128.9,339.66 L130.4,339.22 L131.9,338.78 L133.4,338.33 L134.9,337.85 L136.4,337.36 L137.9,336.86 L139.4,336.33 L140.9,335.79 L142.4,335.23 L143.9,334.65 L145.4,334.05 L146.9,333.44 L148.4,332.81 L149.9,332.17 L151.4,331.51 L152.9,330.83 L154.4,330.13 L155.9,329.42 L157.4,328.69 L158.9,327.95 L160.4,327.17 L161.9,326.34 L163.4,325.47 L164.9,324.56 L166.4,323.62 L167.9,322.64 L169.4,321.64 L170.9,320.62 L172.4,319.59 L173.9,318.55 L175.4,317.5 L176.9,316.45 L178.4,315.4 L179.9,314.36 L181.4,313.34 L182.9,312.33 L184.4,311.34 L185.9,310.35 L187.4,309.37 L188.9,308.39 L190.4,307.4 L191.9,306.4 L193.4,305.38 L194.9,304.34 L196.4,303.27 L197.9,302.17 L199.4,301.03 L200.9,299.85 L202.4,298.62 L203.9,297.3 L205.4,295.91 L206.9,294.47 L208.4,292.98 L209.9,291.46 L211.4,289.93 L212.9,288.41 L214.4,286.9 L215.9,285.39 L217.4,283.83 L218.9,282.24 L220.4,280.64 L221.9,279.07 L223.4,277.55 L224.9,276.12 L226.4,274.8 L227.9,273.59 L229.4,272.46 L230.9,271.38 L232.4,270.35 L233.9,269.34 L235.4,268.32 L236.9,267.25 L238.4,266.16 L239.9,265.1 L241.4,264.11 L242.9,263.25 L244.4,262.57 L245.9,262.1 L247.4,261.72 L248.9,261.39 L250.4,261.1 L251.9,260.85 L253.4,260.62 L254.9,260.39 L256.4,260.15 L257.9,259.89 L259.4,259.6 L260.9,259.29 L262.4,258.99 L263.9,258.68 L265.4,258.36 L266.9,258.02 L268.4,257.66 L269.9,257.28 L271.4,256.86 L272.9,256.41 L274.4,255.93 L275.9,255.39 L277.4,254.77 L278.9,254.06 L280.4,253.13 L281.9,251.89 L283.4,250.5 L284.9,248.69 L286.4,246.93 L287.9,246.05 L289.4,245.4 L290.9,244.87 L292.4,244.46 L293.9,244.15 L295.4,243.95 L296.9,243.8 L298.4,243.65 L299.9,243.52 L301.4,243.4 L302.9,243.29 L304.4,243.19 L305.9,243.1 L307.4,243.01 L308.9,242.94 L310.4,242.87 L311.9,242.8 L313.4,242.74 L314.9,242.69 L316.4,242.63 L317.9,242.58 L319.4,242.52 L320.9,242.47 L322.4,242.41 L323.9,242.36 L325.4,242.31 L326.9,242.25 L328.4,242.2 L329.9,242.15 L331.4,242.1 L332.9,242.05 L334.4,242 L335.9,241.95 L337.4,241.91 L338.9,241.87 L340.4,241.82 L341.9,241.78 L343.4,241.75 L344.9,241.71 L346.4,241.68 L347.9,241.65 L349.4,241.62 L350.9,241.59 L352.4,241.57 L353.9,241.55 L355.4,241.53 L356.9,241.52 L358.4,241.51 L359.9,241.5 L360,241.5" stroke="#DF536B" stroke-width="1.3" fill="none"/>
<path d="M64.4,397 L65.9,397.03 L67.4,397.06 L68.9,397.09 L70.4,397.12 L71.9,397.15 L73.4,397.19 L74.9,397.22 L76.4,397.26 L77.9,397.29 L79.4,397.33 L80.9,397.37 L82.4,397.41 L83.9,397.45 L85.4,397.49 L86.9,397.53 L88.4,397.57 L89.9,397.61 L91.4,397.66 L92.9,397.7 L94.4,397.74 L95.9,397.79 L97.4,397.84 L98.9,397.88 L100.4,397.93 L101.9,397.98 L103.4,398.02 L104.9,398.07 L106.4,398.12 L107.9,398.17 L109.4,398.22 L110.9,398.27 L112.4,398.33 L113.9,398.38 L115.4,398.44 L116.9,398.49 L118.4,398.55 L119.9,398.61 L121.4,398.67 L122.9,398.74 L124.4,398.8 L125.9,398.87 L127.4,398.94 L128.9,399.02 L130.4,399.09 L131.9,399.17 L133.4,399.25 L134.9,399.33 L136.4,399.42 L137.9,399.51 L139.4,399.6 L140.9,399.7 L142.4,399.8 L143.9,399.91 L145.4,400.02 L146.9,400.13 L148.4,400.25 L149.9,400.38 L151.4,400.51 L152.9,400.64 L154.4,400.78 L155.9,400.93 L157.4,401.08 L158.9,401.24 L160.4,401.4 L161.9,401.58 L163.4,401.76 L164.9,401.96 L166.4,402.19 L167.9,402.43 L169.4,402.69 L170.9,402.97 L172.4,403.26 L173.9,403.56 L175.4,403.88 L176.9,404.21 L178.4,404.55 L179.9,404.9 L181.4,405.26 L182.9,405.63 L184.4,406 L185.6,406.3 L185.6,406.3 L187.1,405.63 L188.6,404.92 L190.1,404.19 L191.6,403.43 L193.1,402.64 L194.6,401.83 L196.1,400.99 L197.6,400.13 L199.1,399.24 L200.6,398.32 L202.1,397.37 L203.6,396.37 L205.1,395.34 L206.6,394.28 L208.1,393.2 L209.6,392.09 L211.1,390.96 L212.6,389.82 L214.1,388.68 L215.6,387.52 L217.1,386.37 L218.6,385.22 L220.1,384.06 L221.6,382.9 L223.1,381.72 L224.6,380.52 L226.1,379.28 L227.6,378.01 L229.1,376.7 L230.6,375.34 L232.1,373.92 L233.6,372.45 L235.1,370.92 L236.6,369.34 L238.1,367.68 L239.6,365.94 L241.1,364.1 L242.6,362.17 L244.1,360.03 L245.6,357.62 L247.1,355.1 L248.6,352.63 L250.1,350.31 L251.6,348.08 L253.1,345.87 L254.6,343.68 L256.1,341.45 L257.6,339.16 L259.1,336.78 L260.6,334.31 L262.1,331.78 L263.6,329.19 L265.1,326.55 L266.6,323.85 L268.1,321.1 L269.6,318.3 L271.1,315.44 L272.6,312.52 L274.1,309.54 L275.6,306.5 L277.1,303.39 L278.6,300.21 L280.1,296.95 L281.6,293.58 L283.1,290.14 L284.6,286.63 L286.1,283.1 L287.6,279.57 L289.1,276.14 L290.6,272.78 L292.1,269.36 L293.6,265.73 L295.1,261.73 L296.6,256.75 L298.1,250.83 L299.6,247.62 L301.1,245.52 L302.6,244.2 L304.1,243.58 L305.6,243.09 L307.1,242.69 L308.6,242.39 L310.1,242.16 L311.6,242.02 L313.1,241.94 L314.6,241.87 L316.1,241.8 L317.6,241.74 L319.1,241.69 L320.6,241.64 L322.1,241.6 L323.6,241.57 L325.1,241.54 L326.6,241.52 L328.1,241.51 L329.6,241.5 L330,241.5" stroke="#2297E6" stroke-width="1.3" fill="none"/>
<path d="M64.4,203.7 L65.9,203.73 L67.4,203.77 L68.9,203.82 L70.4,203.87 L71.9,203.92 L73.4,203.98 L74.9,204.04 L76.4,204.11 L77.9,204.18 L79.4,204.26 L80.9,204.34 L82.4,204.42 L83.9,204.51 L85.4,204.6 L86.9,204.69 L88.4,204.79 L89.9,204.89 L91.4,204.99 L92.9,205.09 L94.4,205.19 L95.9,205.3 L97.4,205.41 L98.9,205.52 L100.4,205.63 L101.9,205.75 L103.4,205.87 L104.9,205.99 L106.4,206.12 L107.9,206.26 L109.4,206.4 L110.9,206.55 L112.4,206.7 L113.9,206.86 L115.4,207.02 L116.9,207.19 L118.4,207.36 L119.9,207.54 L121.4,207.72 L122.9,207.91 L124.4,208.1 L125.9,208.3 L127.4,208.51 L128.9,208.71 L130.4,208.93 L131.9,209.15 L133.4,209.37 L134.9,209.6 L136.4,209.84 L137.9,210.08 L139.4,210.32 L140.9,210.57 L142.4,210.83 L143.9,211.09 L145.4,211.35 L146.9,211.62 L148.4,211.9 L149.9,212.18 L151.4,212.48 L152.9,212.8 L154.4,213.15 L155.9,213.52 L157.4,213.91 L158.9,214.33 L160.4,214.76 L161.9,215.21 L163.4,215.67 L164.9,216.14 L166.4,216.62 L167.9,217.12 L169.4,217.62 L170.9,218.12 L172.4,218.63 L173.9,219.13 L175.4,219.64 L176.9,220.14 L178.4,220.64 L179.9,221.14 L181.4,221.62 L182.9,222.11 L184.4,222.6 L185.9,223.09 L187.4,223.59 L188.9,224.09 L190.4,224.6 L191.9,225.12 L193.4,225.65 L194.9,226.19 L196.4,226.74 L197.9,227.3 L199.4,227.88 L200.9,228.48 L202.4,229.09 L203.9,229.71 L205.4,230.36 L206.9,231.02 L208.4,231.72 L209.9,232.44 L211.4,233.2 L212.9,234 L214.4,234.93 L215.9,236 L217.4,237.11 L218.9,238.15 L220.4,239.02 L221.9,239.67 L223.4,240.25 L224.9,240.76 L226.4,241.18 L227.9,241.48 L228,241.5" stroke="#DF536B" stroke-width="1.3" fill="none"/>
<path d="M64.4,212.6 L65.9,212.62 L67.4,212.65 L68.9,212.68 L70.4,212.72 L71.9,212.75 L73.4,212.79 L74.9,212.83 L76.4,212.87 L77.9,212.92 L79.4,212.97 L80.9,213.02 L82.4,213.07 L83.9,213.12 L85.4,213.18 L86.9,213.24 L88.4,213.3 L89.9,213.36 L91.4,213.42 L92.9,213.48 L94.4,213.55 L95.9,213.61 L97.4,213.68 L98.9,213.75 L100.4,213.82 L101.9,213.89 L103.4,213.96 L104.9,214.04 L106.4,214.12 L107.9,214.2 L109.4,214.29 L110.9,214.38 L112.4,214.47 L113.9,214.56 L115.4,214.66 L116.9,214.76 L118.4,214.86 L119.9,214.97 L121.4,215.08 L122.9,215.19 L124.4,215.31 L125.9,215.42 L127.4,215.54 L128.9,215.67 L130.4,215.79 L131.9,215.92 L133.4,216.05 L134.9,216.19 L136.4,216.32 L137.9,216.46 L139.4,216.61 L140.9,216.75 L142.4,216.9 L143.9,217.05 L145.4,217.21 L146.9,217.37 L148.4,217.53 L149.9,217.69 L151.4,217.86 L152.9,218.04 L154.4,218.23 L155.9,218.43 L157.4,218.65 L158.9,218.87 L160.4,219.1 L161.9,219.34 L163.4,219.59 L164.9,219.84 L166.4,220.1 L167.9,220.37 L169.4,220.65 L170.9,220.93 L172.4,221.21 L173.9,221.5 L175.4,221.8 L176.9,222.09 L178.4,222.39 L179.9,222.7 L181.4,223.01 L182.9,223.34 L184.4,223.69 L185.9,224.06 L187.4,224.44 L188.9,224.83 L190.4,225.23 L191.9,225.63 L193.4,226.03 L194.9,226.43 L196.4,226.83 L197.9,227.21 L199.4,227.59 L200.9,227.95 L202.4,228.29 L203.9,228.62 L205.4,228.94 L206.9,229.25 L208.4,229.56 L209.9,229.86 L211.4,230.16 L212.9,230.46 L214.4,230.76 L215.9,231.07 L217.4,231.39 L218.9,231.72 L220.4,232.06 L221.9,232.42 L223.4,232.8 L224.9,233.19 L226.4,233.62 L227.9,234.1 L229.4,234.65 L230.9,235.25 L232.4,235.86 L233.9,236.47 L235.4,237.07 L236.9,237.63 L238.4,238.12 L239.9,238.56 L241.4,239.01 L242.9,239.46 L244.4,239.89 L245.9,240.3 L247.4,240.66 L248.9,240.95 L250.4,241.17 L251.9,241.3 L253.4,241.36 L254.9,241.41 L256.4,241.45 L257.9,241.48 L259.4,241.5 L260,241.5" stroke="#CD0BBC" stroke-width="1.3" fill="none"/>
<path d="M64.4,113.6 L65.9,113.67 L67.4,113.75 L68.9,113.83 L70.4,113.92 L71.9,114.02 L73.4,114.12 L74.9,114.23 L76.4,114.34 L77.9,114.46 L79.4,114.59 L80.9,114.72 L82.4,114.85 L83.9,114.99 L85.4,115.13 L86.9,115.27 L88.4,115.42 L89.9,115.57 L91.4,115.72 L92.9,115.88 L94.4,116.05 L95.9,116.22 L97.4,116.41 L98.9,116.6 L100.4,116.8 L101.9,117.01 L103.4,117.23 L104.9,117.46 L106.4,117.69 L107.9,117.93 L109.4,118.17 L110.9,118.43 L112.4,118.69 L113.9,118.96 L115.4,119.24 L116.9,119.54 L118.4,119.85 L119.9,120.17 L121.4,120.5 L122.9,120.85 L124.4,121.2 L125.9,121.57 L127.4,121.95 L128.9,122.33 L130.4,122.73 L131.9,123.14 L133.4,123.55 L134.9,124 L136.4,124.48 L137.9,124.98 L139.4,125.5 L140.9,126.03 L142.4,126.58 L143.9,127.13 L145.4,127.69 L146.9,128.25 L148.4,128.81 L149.9,129.36 L151.4,129.9 L152.9,130.43 L154.4,130.94 L155.9,131.42 L157.4,131.9 L158.9,132.36 L160.4,132.83 L161.9,133.3 L163.4,133.79 L164.9,134.3 L166.4,134.83 L167.9,135.4 L169.4,136.01 L170.9,136.67 L172.4,137.35 L173.9,138.07 L175.4,138.84 L176.9,139.65 L178.4,140.51 L179.9,141.44 L181.4,142.42 L182.9,143.48 L184.4,144.61 L185.9,145.91 L187.4,147.37 L188.9,148.99 L190.4,150.73 L191.9,152.58 L193.4,154.51 L194.9,156.53 L196.4,158.87 L197.9,161.46 L199.4,164.16 L200.9,166.83 L202.4,169.32 L203.9,171.51 L205.4,173.44 L206.9,175.21 L208.4,176.92 L209.9,178.62 L211.4,180.38 L212.9,182.17 L214.4,183.9 L215.9,185.62 L217.4,187.38 L218.9,189.2 L220.4,191.14 L221.9,193.24 L223.4,195.54 L224.9,198.15 L226.4,201.06 L227.9,204.21 L229.4,207.54 L230.9,211.15 L232.4,215.13 L233.9,219.32 L235.4,223.65 L236.9,228.33 L238.4,232.98 L239.9,237.26 L241.4,240.93 L242.9,241.5 L243,241.5" stroke="#61D04F" stroke-width="1.3" fill="none"/>
<path d="M64.4,202 L65.9,202.01 L67.4,202.01 L68.9,202.02 L70.4,202.03 L71.9,202.03 L73.4,202.04 L74.9,202.04 L76.4,202.05 L77.9,202.06 L79.4,202.06 L80.9,202.07 L82.4,202.07 L83.9,202.08 L85.4,202.08 L86.9,202.09 L88.4,202.1 L89.9,202.1 L91.4,202.11 L92.9,202.11 L94.4,202.12 L95.9,202.12 L97.4,202.13 L98.9,202.13 L100.4,202.13 L101.9,202.14 L103.4,202.14 L104.9,202.15 L106.4,202.15 L107.9,202.16 L109.4,202.16 L110.9,202.16 L112.4,202.17 L113.9,202.17 L115.4,202.17 L116.9,202.18 L118.4,202.18 L119.9,202.18 L121.4,202.18 L122.9,202.19 L124.4,202.19 L125.9,202.19 L127.4,202.19 L128.9,202.19 L130.4,202.2 L131.9,202.2 L133.4,202.2 L134.9,202.2 L136.4,202.2 L137.9,202.2 L139.4,202.2 L140.9,202.2 L142.4,202.2 L143.9,202.2 L145.4,202.2 L146.9,202.2 L148.4,202.2 L149.9,202.2 L151.4,202.2 L152.9,202.2 L154.4,202.2 L155.9,202.2 L157.4,202.2 L158.9,202.2 L160.4,202.2 L161.9,202.2 L163.4,202.2 L164.9,202.2 L166.4,202.2 L167.9,202.2 L169.4,202.2 L170.9,202.2 L172.4,202.2 L173.9,202.2 L175.4,202.2 L176.9,202.2 L178.4,202.2 L179.9,202.2 L181.4,202.2 L182.9,202.2 L184.4,202.2 L185.9,202.2 L187.4,202.2 L188.9,202.2 L190.4,202.2 L191.9,202.2 L193.4,202.21 L194.9,202.21 L196.4,202.22 L197.9,202.24 L199.4,202.25 L200.9,202.27 L202.4,202.29 L203.9,202.31 L205.4,202.33 L206.9,202.36 L208.4,202.39 L209.9,202.42 L211.4,202.45 L212.9,202.48 L214.4,202.51 L215.9,202.55 L217.4,202.59 L218.9,202.63 L220.4,202.67 L221.9,202.71 L223.4,202.75 L224.9,202.79 L226.4,202.84 L227.9,202.88 L229.4,202.93 L230.9,202.98 L232.4,203.02 L233.9,203.07 L235.4,203.12 L236.9,203.17 L238.4,203.22 L239.9,203.27 L241.4,203.32 L242.9,203.37 L244.4,203.42 L245.9,203.47 L247.4,203.51 L248.9,203.56 L250.4,203.61 L251.9,203.66 L253.4,203.72 L254.9,203.77 L256.4,203.83 L257.9,203.89 L259.4,203.95 L260.9,204.01 L262.4,204.07 L263.9,204.14 L265.4,204.21 L266.9,204.28 L268.4,204.35 L269.9,204.43 L271.4,204.5 L272.9,204.58 L274.4,204.66 L275.9,204.74 L277.4,204.83 L278.9,204.91 L280.4,205 L281.9,205.09 L283.4,205.18 L284.9,205.27 L286.4,205.37 L287.9,205.46 L289.4,205.56 L290.9,205.66 L292.4,205.77 L293.9,205.89 L295.4,206.01 L296.9,206.14 L298.4,206.28 L299.9,206.42 L301.4,206.56 L302.9,206.7 L304.4,206.85 L305.9,207 L307.4,207.15 L308.9,207.29 L310.4,207.44 L311.9,207.58 L313.4,207.73 L314.9,207.87 L316.4,208.02 L317.9,208.16 L319.4,208.31 L320.9,208.46 L322.4,208.61 L323.9,208.75 L325.4,208.9 L326.9,209.06 L328.4,209.21 L329.9,209.36 L331.4,209.52 L332.9,209.68 L334.4,209.84 L335.9,210 L337.4,210.16 L338.9,210.33 L340.4,210.5 L341.9,210.67 L343.4,210.85 L344.9,211.02 L346.4,211.2 L347.9,211.39 L349.4,211.58 L350.9,211.77 L352.4,211.98 L353.9,212.19 L355.4,212.41 L356.9,212.63 L358.4,212.86 L359.9,213.08 L361.4,213.32 L362.9,213.55 L364.4,213.78 L365.9,214.02 L367.4,214.26 L368.9,214.5 L370.4,214.75 L371.9,214.99 L373.4,215.25 L374.9,215.5 L376.4,215.76 L377.9,216.03 L379.4,216.3 L380.9,216.58 L382.4,216.86 L383.9,217.14 L385.4,217.44 L386.9,217.73 L388.4,218.02 L389.9,218.32 L391.4,218.62 L392.9,218.92 L394.4,219.23 L395.9,219.55 L397.4,219.87 L398.9,220.21 L400.4,220.56 L401.9,220.92 L403.4,221.3 L404.9,221.7 L406.4,222.11 L407.9,222.55 L409.4,223 L410.9,223.5 L412.4,224.05 L413.9,224.66 L415.4,225.3 L416.9,225.98 L418.4,226.69 L419.9,227.42 L421.4,228.15 L422.9,228.89 L424.4,229.63 L425.9,230.35 L427.4,231.07 L428.9,231.81 L430.4,232.56 L431.9,233.32 L433.4,234.09 L434.9,234.86 L436.4,235.64 L437.9,236.41 L439.4,237.18 L440.9,237.95 L442.4,238.73 L443.9,239.51 L445.4,240.3 L446.9,241.08 L447.5,241.4" stroke="#28E2E5" stroke-width="1.3" fill="none"/>
<path d="M407.0,241.5H447.5" stroke="#2297E6" stroke-width="1.1" fill="none"/>
<rect x="49.5" y="102.0" width="413.0" height="316.2" fill="none" stroke="#000" stroke-width="1.4"/>
<line x1="77" y1="418.2" x2="77" y2="427" stroke="#000" stroke-width="1.1"/>
<text transform="translate(77,448.3) scale(0.75,1)" text-anchor="middle" font-size="14" fill="#000" >−10</text>
<line x1="173.7" y1="418.2" x2="173.7" y2="427" stroke="#000" stroke-width="1.1"/>
<text transform="translate(173.7,448.3) scale(0.75,1)" text-anchor="middle" font-size="14" fill="#000" >−8</text>
<line x1="270.4" y1="418.2" x2="270.4" y2="427" stroke="#000" stroke-width="1.1"/>
<text transform="translate(270.4,448.3) scale(0.75,1)" text-anchor="middle" font-size="14" fill="#000" >−6</text>
<line x1="367.1" y1="418.2" x2="367.1" y2="427" stroke="#000" stroke-width="1.1"/>
<text transform="translate(367.1,448.3) scale(0.75,1)" text-anchor="middle" font-size="14" fill="#000" >−4</text>
<line x1="77" y1="102.0" x2="77" y2="98" stroke="#000" stroke-width="1.1"/>
<text transform="translate(77,82) scale(0.75,1)" text-anchor="middle" font-size="14" fill="#000" >34</text>
<line x1="173.7" y1="102.0" x2="173.7" y2="98" stroke="#000" stroke-width="1.1"/>
<text transform="translate(173.7,82) scale(0.75,1)" text-anchor="middle" font-size="14" fill="#000" >34</text>
<line x1="270.4" y1="102.0" x2="270.4" y2="98" stroke="#000" stroke-width="1.1"/>
<text transform="translate(270.4,82) scale(0.75,1)" text-anchor="middle" font-size="14" fill="#000" >27</text>
<line x1="367.1" y1="102.0" x2="367.1" y2="98" stroke="#000" stroke-width="1.1"/>
<text transform="translate(367.1,82) scale(0.75,1)" text-anchor="middle" font-size="14" fill="#000" >11</text>
<line x1="42.6" y1="375.78" x2="49.5" y2="375.78" stroke="#000" stroke-width="1.2"/>
<text transform="translate(35.2,375.78) scale(0.75,1) rotate(-90)" text-anchor="middle" font-size="14" fill="#000" >−6</text>
<line x1="42.6" y1="331.02" x2="49.5" y2="331.02" stroke="#000" stroke-width="1.2"/>
<text transform="translate(35.2,331.02) scale(0.75,1) rotate(-90)" text-anchor="middle" font-size="14" fill="#000" >−4</text>
<line x1="42.6" y1="286.26" x2="49.5" y2="286.26" stroke="#000" stroke-width="1.2"/>
<text transform="translate(35.2,286.26) scale(0.75,1) rotate(-90)" text-anchor="middle" font-size="14" fill="#000" >−2</text>
<line x1="42.6" y1="241.5" x2="49.5" y2="241.5" stroke="#000" stroke-width="1.2"/>
<text transform="translate(35.2,241.5) scale(0.75,1) rotate(-90)" text-anchor="middle" font-size="14" fill="#000" >0</text>
<line x1="42.6" y1="196.74" x2="49.5" y2="196.74" stroke="#000" stroke-width="1.2"/>
<text transform="translate(35.2,196.74) scale(0.75,1) rotate(-90)" text-anchor="middle" font-size="14" fill="#000" >2</text>
<line x1="42.6" y1="151.98" x2="49.5" y2="151.98" stroke="#000" stroke-width="1.2"/>
<text transform="translate(35.2,151.98) scale(0.75,1) rotate(-90)" text-anchor="middle" font-size="14" fill="#000" >4</text>
<line x1="42.6" y1="107.22" x2="49.5" y2="107.22" stroke="#000" stroke-width="1.2"/>
<text transform="translate(35.2,107.22) scale(0.75,1) rotate(-90)" text-anchor="middle" font-size="14" fill="#000" >6</text>
<text transform="translate(256,481.3) scale(0.75,1)" text-anchor="middle" font-size="14" fill="#000" >Log Lambda</text>
<text transform="translate(9.4,260) scale(0.75,1) rotate(-90)" text-anchor="middle" font-size="14" fill="#000" >Coefficients</text>
<text transform="translate(59.5,115.4) scale(0.75,1)" text-anchor="end" font-size="7" fill="#555" >9</text>
<text transform="translate(59.5,204.5) scale(0.75,1)" text-anchor="end" font-size="7" fill="#555" >11</text>
<text transform="translate(59.5,206.3) scale(0.75,1)" text-anchor="end" font-size="7" fill="#555" >14</text>
<text transform="translate(59.5,215.3) scale(0.75,1)" text-anchor="end" font-size="7" fill="#555" >12</text>
<text transform="translate(59.5,279.3) scale(0.75,1)" text-anchor="end" font-size="7" fill="#555" >15</text>
<text transform="translate(59.5,285.1) scale(0.75,1)" text-anchor="end" font-size="7" fill="#555" >16</text>
<text transform="translate(59.5,354.1) scale(0.75,1)" text-anchor="end" font-size="7" fill="#555" >8</text>
<text transform="translate(59.5,399.5) scale(0.75,1)" text-anchor="end" font-size="7" fill="#555" >10</text>
<text transform="translate(59.5,232) scale(0.75,1)" text-anchor="end" font-size="7" fill="#333" >3</text>
<text transform="translate(59.5,234) scale(0.75,1)" text-anchor="end" font-size="7" fill="#333" >21</text>
<text transform="translate(59.5,236) scale(0.75,1)" text-anchor="end" font-size="7" fill="#333" >7</text>
<text transform="translate(59.5,238) scale(0.75,1)" text-anchor="end" font-size="7" fill="#333" >5</text>
<text transform="translate(59.5,240) scale(0.75,1)" text-anchor="end" font-size="7" fill="#333" >13</text>
<text transform="translate(59.5,242) scale(0.75,1)" text-anchor="end" font-size="7" fill="#333" >2</text>
<text transform="translate(59.5,244) scale(0.75,1)" text-anchor="end" font-size="7" fill="#333" >18</text>
<text transform="translate(59.5,246) scale(0.75,1)" text-anchor="end" font-size="7" fill="#333" >20</text>
<text transform="translate(59.5,248) scale(0.75,1)" text-anchor="end" font-size="7" fill="#333" >6</text>
<text transform="translate(59.5,250) scale(0.75,1)" text-anchor="end" font-size="7" fill="#333" >11</text>
<text transform="translate(59.5,252) scale(0.75,1)" text-anchor="end" font-size="7" fill="#333" >22</text>
<text transform="translate(59.5,254) scale(0.75,1)" text-anchor="end" font-size="7" fill="#333" >17</text>
<text transform="translate(59.5,256) scale(0.75,1)" text-anchor="end" font-size="7" fill="#333" >19</text>
<text transform="translate(59.5,258) scale(0.75,1)" text-anchor="end" font-size="7" fill="#333" >23</text>
<text transform="translate(59.5,260) scale(0.75,1)" text-anchor="end" font-size="7" fill="#333" >24</text>
<text transform="translate(59.5,262) scale(0.75,1)" text-anchor="end" font-size="7" fill="#333" >1</text>
<path d="M591.2,242.9V353.9M595.82,243.09V353.96M600.44,243.28V354.03M605.05,243.47V354.09M609.67,243.65V354.15M614.29,243.84V354.21M618.91,244.03V354.28M623.53,244.45V354.47M628.15,244.99V354.75M632.76,245.54V355.02M637.38,246.08V355.29M642,246.68V355.61M646.62,247.43V356.09M651.24,248.19V356.57M655.86,248.94V357.05M660.47,249.7V357.53M665.09,250.59V358.11M669.71,251.5V358.7M674.33,252.41V359.29M678.95,253.32V359.89M683.57,254.39V360.57M688.18,255.64V361.37M692.8,256.89V362.17M697.42,258.14V362.96M702.04,259.41V363.77M706.66,260.94V364.73M711.28,262.46V365.68M715.89,263.98V366.64M720.51,265.51V367.59M725.13,266.69V368.66M729.75,267.72V369.77M734.37,268.74V370.89M738.99,269.77V372M743.6,270.73V373.14M748.22,271.55V374.35M752.84,272.37V375.55M757.46,273.19V376.76M762.08,274.01V377.96M766.7,274.73V379.54M771.31,275.44V381.19M775.93,276.16V382.89M780.55,277.05V384.6M785.17,278.24V386.31M789.79,279.42V388.02M794.41,280.61V389.55M799.02,281.8V390.95M803.64,282.78V392.34M808.26,283.13V393.73M812.88,283.47V395.12M817.5,283.81V396.43M822.12,283.84V397.72M826.73,283.75V399M831.35,283.67V400.29M835.97,283.47V401.55M840.59,282.9V402.33M845.21,281.84V403.11M849.82,280.24V403.89M854.44,278.66V404.67M859.06,277.08V405.32M863.68,274.57V405.69M868.3,272.2V406.06M872.92,270.66V406.44M877.53,268.77V406.81M882.15,266.43V407.18M886.77,264.53V407.29M891.39,262.81V407.2M896.01,259.22V406.51M900.63,255.23V405.22M905.24,250.1V403.22M909.86,243.95V399.43M914.48,236.52V395.11M919.1,227.59V389.91M923.72,219.02V384.69M928.34,210.21V379.67M932.95,201.28V373.07M937.57,192.91V366.58M942.19,185.53V360.44M946.81,176.38V353.2M951.43,167.05V346.05M956.05,155.56V337.19M960.66,141.58V326.29M965.28,125.46V312.91M969.9,113.5V300.39" stroke="#BDBDBD" stroke-width="1" fill="none"/>
<path d="M587.1,242.9H595.3M587.1,353.9H595.3M591.72,243.09H599.92M591.72,353.96H599.92M596.34,243.28H604.54M596.34,354.03H604.54M600.95,243.47H609.15M600.95,354.09H609.15M605.57,243.65H613.77M605.57,354.15H613.77M610.19,243.84H618.39M610.19,354.21H618.39M614.81,244.03H623.01M614.81,354.28H623.01M619.43,244.45H627.63M619.43,354.47H627.63M624.05,244.99H632.25M624.05,354.75H632.25M628.66,245.54H636.86M628.66,355.02H636.86M633.28,246.08H641.48M633.28,355.29H641.48M637.9,246.68H646.1M637.9,355.61H646.1M642.52,247.43H650.72M642.52,356.09H650.72M647.14,248.19H655.34M647.14,356.57H655.34M651.76,248.94H659.96M651.76,357.05H659.96M656.37,249.7H664.57M656.37,357.53H664.57M660.99,250.59H669.19M660.99,358.11H669.19M665.61,251.5H673.81M665.61,358.7H673.81M670.23,252.41H678.43M670.23,359.29H678.43M674.85,253.32H683.05M674.85,359.89H683.05M679.47,254.39H687.67M679.47,360.57H687.67M684.08,255.64H692.28M684.08,361.37H692.28M688.7,256.89H696.9M688.7,362.17H696.9M693.32,258.14H701.52M693.32,362.96H701.52M697.94,259.41H706.14M697.94,363.77H706.14M702.56,260.94H710.76M702.56,364.73H710.76M707.18,262.46H715.38M707.18,365.68H715.38M711.79,263.98H719.99M711.79,366.64H719.99M716.41,265.51H724.61M716.41,367.59H724.61M721.03,266.69H729.23M721.03,368.66H729.23M725.65,267.72H733.85M725.65,369.77H733.85M730.27,268.74H738.47M730.27,370.89H738.47M734.89,269.77H743.09M734.89,372H743.09M739.5,270.73H747.7M739.5,373.14H747.7M744.12,271.55H752.32M744.12,374.35H752.32M748.74,272.37H756.94M748.74,375.55H756.94M753.36,273.19H761.56M753.36,376.76H761.56M757.98,274.01H766.18M757.98,377.96H766.18M762.6,274.73H770.8M762.6,379.54H770.8M767.21,275.44H775.41M767.21,381.19H775.41M771.83,276.16H780.03M771.83,382.89H780.03M776.45,277.05H784.65M776.45,384.6H784.65M781.07,278.24H789.27M781.07,386.31H789.27M785.69,279.42H793.89M785.69,388.02H793.89M790.31,280.61H798.51M790.31,389.55H798.51M794.92,281.8H803.12M794.92,390.95H803.12M799.54,282.78H807.74M799.54,392.34H807.74M804.16,283.13H812.36M804.16,393.73H812.36M808.78,283.47H816.98M808.78,395.12H816.98M813.4,283.81H821.6M813.4,396.43H821.6M818.01,283.84H826.22M818.01,397.72H826.22M822.63,283.75H830.83M822.63,399H830.83M827.25,283.67H835.45M827.25,400.29H835.45M831.87,283.47H840.07M831.87,401.55H840.07M836.49,282.9H844.69M836.49,402.33H844.69M841.11,281.84H849.31M841.11,403.11H849.31M845.72,280.24H853.92M845.72,403.89H853.92M850.34,278.66H858.54M850.34,404.67H858.54M854.96,277.08H863.16M854.96,405.32H863.16M859.58,274.57H867.78M859.58,405.69H867.78M864.2,272.2H872.4M864.2,406.06H872.4M868.82,270.66H877.02M868.82,406.44H877.02M873.43,268.77H881.63M873.43,406.81H881.63M878.05,266.43H886.25M878.05,407.18H886.25M882.67,264.53H890.87M882.67,407.29H890.87M887.29,262.81H895.49M887.29,407.2H895.49M891.91,259.22H900.11M891.91,406.51H900.11M896.53,255.23H904.73M896.53,405.22H904.73M901.14,250.1H909.34M901.14,403.22H909.34M905.76,243.95H913.96M905.76,399.43H913.96M910.38,236.52H918.58M910.38,395.11H918.58M915,227.59H923.2M915,389.91H923.2M919.62,219.02H927.82M919.62,384.69H927.82M924.24,210.21H932.44M924.24,379.67H932.44M928.85,201.28H937.05M928.85,373.07H937.05M933.47,192.91H941.67M933.47,366.58H941.67M938.09,185.53H946.29M938.09,360.44H946.29M942.71,176.38H950.91M942.71,353.2H950.91M947.33,167.05H955.53M947.33,346.05H955.53M951.95,155.56H960.15M951.95,337.19H960.15M956.56,141.58H964.76M956.56,326.29H964.76M961.18,125.46H969.38M961.18,312.91H969.38M965.8,113.5H974M965.8,300.39H974" stroke="#A9A9A9" stroke-width="1" fill="none"/>
<ellipse cx="591.2" cy="298.6" rx="2.55" ry="2.85" fill="#FF0000"/>
<ellipse cx="595.82" cy="298.76" rx="2.55" ry="2.85" fill="#FF0000"/>
<ellipse cx="600.44" cy="298.91" rx="2.55" ry="2.85" fill="#FF0000"/>
<ellipse cx="605.05" cy="299.07" rx="2.55" ry="2.85" fill="#FF0000"/>
<ellipse cx="609.67" cy="299.23" rx="2.55" ry="2.85" fill="#FF0000"/>
<ellipse cx="614.29" cy="299.39" rx="2.55" ry="2.85" fill="#FF0000"/>
<ellipse cx="618.91" cy="299.54" rx="2.55" ry="2.85" fill="#FF0000"/>
<ellipse cx="623.53" cy="299.77" rx="2.55" ry="2.85" fill="#FF0000"/>
<ellipse cx="628.15" cy="300.05" rx="2.55" ry="2.85" fill="#FF0000"/>
<ellipse cx="632.76" cy="300.32" rx="2.55" ry="2.85" fill="#FF0000"/>
<ellipse cx="637.38" cy="300.59" rx="2.55" ry="2.85" fill="#FF0000"/>
<ellipse cx="642" cy="300.96" rx="2.55" ry="2.85" fill="#FF0000"/>
<ellipse cx="646.62" cy="301.62" rx="2.55" ry="2.85" fill="#FF0000"/>
<ellipse cx="651.24" cy="302.28" rx="2.55" ry="2.85" fill="#FF0000"/>
<ellipse cx="655.86" cy="302.95" rx="2.55" ry="2.85" fill="#FF0000"/>
<ellipse cx="660.47" cy="303.61" rx="2.55" ry="2.85" fill="#FF0000"/>
<ellipse cx="665.09" cy="304.29" rx="2.55" ry="2.85" fill="#FF0000"/>
<ellipse cx="669.71" cy="304.97" rx="2.55" ry="2.85" fill="#FF0000"/>
<ellipse cx="674.33" cy="305.66" rx="2.55" ry="2.85" fill="#FF0000"/>
<ellipse cx="678.95" cy="306.34" rx="2.55" ry="2.85" fill="#FF0000"/>
<ellipse cx="683.57" cy="307.2" rx="2.55" ry="2.85" fill="#FF0000"/>
<ellipse cx="688.18" cy="308.27" rx="2.55" ry="2.85" fill="#FF0000"/>
<ellipse cx="692.8" cy="309.34" rx="2.55" ry="2.85" fill="#FF0000"/>
<ellipse cx="697.42" cy="310.41" rx="2.55" ry="2.85" fill="#FF0000"/>
<ellipse cx="702.04" cy="311.49" rx="2.55" ry="2.85" fill="#FF0000"/>
<ellipse cx="706.66" cy="312.72" rx="2.55" ry="2.85" fill="#FF0000"/>
<ellipse cx="711.28" cy="313.95" rx="2.55" ry="2.85" fill="#FF0000"/>
<ellipse cx="715.89" cy="315.18" rx="2.55" ry="2.85" fill="#FF0000"/>
<ellipse cx="720.51" cy="316.4" rx="2.55" ry="2.85" fill="#FF0000"/>
<ellipse cx="725.13" cy="317.52" rx="2.55" ry="2.85" fill="#FF0000"/>
<ellipse cx="729.75" cy="318.59" rx="2.55" ry="2.85" fill="#FF0000"/>
<ellipse cx="734.37" cy="319.66" rx="2.55" ry="2.85" fill="#FF0000"/>
<ellipse cx="738.99" cy="320.73" rx="2.55" ry="2.85" fill="#FF0000"/>
<ellipse cx="743.6" cy="321.83" rx="2.55" ry="2.85" fill="#FF0000"/>
<ellipse cx="748.22" cy="322.99" rx="2.55" ry="2.85" fill="#FF0000"/>
<ellipse cx="752.84" cy="324.15" rx="2.55" ry="2.85" fill="#FF0000"/>
<ellipse cx="757.46" cy="325.31" rx="2.55" ry="2.85" fill="#FF0000"/>
<ellipse cx="762.08" cy="326.47" rx="2.55" ry="2.85" fill="#FF0000"/>
<ellipse cx="766.7" cy="327.55" rx="2.55" ry="2.85" fill="#FF0000"/>
<ellipse cx="771.31" cy="328.58" rx="2.55" ry="2.85" fill="#FF0000"/>
<ellipse cx="775.93" cy="329.36" rx="2.55" ry="2.85" fill="#FF0000"/>
<ellipse cx="780.55" cy="330.62" rx="2.55" ry="2.85" fill="#FF0000"/>
<ellipse cx="785.17" cy="332.12" rx="2.55" ry="2.85" fill="#FF0000"/>
<ellipse cx="789.79" cy="333.4" rx="2.55" ry="2.85" fill="#FF0000"/>
<ellipse cx="794.41" cy="335.03" rx="2.55" ry="2.85" fill="#FF0000"/>
<ellipse cx="799.02" cy="336.52" rx="2.55" ry="2.85" fill="#FF0000"/>
<ellipse cx="803.64" cy="337.31" rx="2.55" ry="2.85" fill="#FF0000"/>
<ellipse cx="808.26" cy="338.19" rx="2.55" ry="2.85" fill="#FF0000"/>
<ellipse cx="812.88" cy="338.91" rx="2.55" ry="2.85" fill="#FF0000"/>
<ellipse cx="817.5" cy="339.42" rx="2.55" ry="2.85" fill="#FF0000"/>
<ellipse cx="822.12" cy="340.24" rx="2.55" ry="2.85" fill="#FF0000"/>
<ellipse cx="826.73" cy="341.01" rx="2.55" ry="2.85" fill="#FF0000"/>
<ellipse cx="831.35" cy="341.51" rx="2.55" ry="2.85" fill="#FF0000"/>
<ellipse cx="835.97" cy="342.13" rx="2.55" ry="2.85" fill="#FF0000"/>
<ellipse cx="840.59" cy="342.58" rx="2.55" ry="2.85" fill="#FF0000"/>
<ellipse cx="845.21" cy="342.29" rx="2.55" ry="2.85" fill="#FF0000"/>
<ellipse cx="849.82" cy="341.96" rx="2.55" ry="2.85" fill="#FF0000"/>
<ellipse cx="854.44" cy="341.45" rx="2.55" ry="2.85" fill="#FF0000"/>
<ellipse cx="859.06" cy="340.77" rx="2.55" ry="2.85" fill="#FF0000"/>
<ellipse cx="863.68" cy="340.17" rx="2.55" ry="2.85" fill="#FF0000"/>
<ellipse cx="868.3" cy="339.35" rx="2.55" ry="2.85" fill="#FF0000"/>
<ellipse cx="872.92" cy="338.57" rx="2.55" ry="2.85" fill="#FF0000"/>
<ellipse cx="877.53" cy="338.08" rx="2.55" ry="2.85" fill="#FF0000"/>
<ellipse cx="882.15" cy="337.27" rx="2.55" ry="2.85" fill="#FF0000"/>
<ellipse cx="886.77" cy="336.19" rx="2.55" ry="2.85" fill="#FF0000"/>
<ellipse cx="891.39" cy="334.38" rx="2.55" ry="2.85" fill="#FF0000"/>
<ellipse cx="896.01" cy="332.45" rx="2.55" ry="2.85" fill="#FF0000"/>
<ellipse cx="900.63" cy="329.08" rx="2.55" ry="2.85" fill="#FF0000"/>
<ellipse cx="905.24" cy="325.86" rx="2.55" ry="2.85" fill="#FF0000"/>
<ellipse cx="909.86" cy="321.16" rx="2.55" ry="2.85" fill="#FF0000"/>
<ellipse cx="914.48" cy="315.23" rx="2.55" ry="2.85" fill="#FF0000"/>
<ellipse cx="919.1" cy="308.43" rx="2.55" ry="2.85" fill="#FF0000"/>
<ellipse cx="923.72" cy="301.2" rx="2.55" ry="2.85" fill="#FF0000"/>
<ellipse cx="928.34" cy="293.9" rx="2.55" ry="2.85" fill="#FF0000"/>
<ellipse cx="932.95" cy="286.94" rx="2.55" ry="2.85" fill="#FF0000"/>
<ellipse cx="937.57" cy="279.29" rx="2.55" ry="2.85" fill="#FF0000"/>
<ellipse cx="942.19" cy="272.44" rx="2.55" ry="2.85" fill="#FF0000"/>
<ellipse cx="946.81" cy="264.33" rx="2.55" ry="2.85" fill="#FF0000"/>
<ellipse cx="951.43" cy="256.03" rx="2.55" ry="2.85" fill="#FF0000"/>
<ellipse cx="956.05" cy="246" rx="2.55" ry="2.85" fill="#FF0000"/>
<ellipse cx="960.66" cy="233.21" rx="2.55" ry="2.85" fill="#FF0000"/>
<ellipse cx="965.28" cy="219.38" rx="2.55" ry="2.85" fill="#FF0000"/>
<ellipse cx="969.9" cy="206.86" rx="2.55" ry="2.85" fill="#FF0000"/>
<line x1="840.3" y1="102.0" x2="840.3" y2="418.5" stroke="#222" stroke-width="1.1" stroke-dasharray="4.6,2.3" stroke-dashoffset="-2.0"/>
<line x1="932.8" y1="102.0" x2="932.8" y2="418.5" stroke="#222" stroke-width="1.1" stroke-dasharray="4.6,2.3" stroke-dashoffset="-2.0"/>
<rect x="576.2" y="102.0" width="408.79999999999995" height="316.5" fill="none" stroke="#000" stroke-width="1.5"/>
<line x1="589.8" y1="418.5" x2="589.8" y2="427.5" stroke="#000" stroke-width="1.1"/>
<text transform="translate(589.8,448.7) scale(0.92,1)" text-anchor="middle" font-size="14" fill="#000" >−10</text>
<line x1="689" y1="418.5" x2="689" y2="427.5" stroke="#000" stroke-width="1.1"/>
<text transform="translate(689,448.7) scale(0.92,1)" text-anchor="middle" font-size="14" fill="#000" >−8</text>
<line x1="788.2" y1="418.5" x2="788.2" y2="427.5" stroke="#000" stroke-width="1.1"/>
<text transform="translate(788.2,448.7) scale(0.92,1)" text-anchor="middle" font-size="14" fill="#000" >−6</text>
<line x1="887.4" y1="418.5" x2="887.4" y2="427.5" stroke="#000" stroke-width="1.1"/>
<text transform="translate(887.4,448.7) scale(0.92,1)" text-anchor="middle" font-size="14" fill="#000" >−4</text>
<line x1="568.4" y1="386.2" x2="576.2" y2="386.2" stroke="#000" stroke-width="1.2"/>
<text transform="translate(559.4,386.2) scale(0.92,1) rotate(-90)" text-anchor="middle" font-size="14" fill="#000" >0.115</text>
<line x1="568.4" y1="330.2" x2="576.2" y2="330.2" stroke="#000" stroke-width="1.2"/>
<text transform="translate(559.4,330.2) scale(0.92,1) rotate(-90)" text-anchor="middle" font-size="14" fill="#000" >0.120</text>
<line x1="568.4" y1="274.2" x2="576.2" y2="274.2" stroke="#000" stroke-width="1.2"/>
<text transform="translate(559.4,274.2) scale(0.92,1) rotate(-90)" text-anchor="middle" font-size="14" fill="#000" >0.125</text>
<line x1="568.4" y1="218.2" x2="576.2" y2="218.2" stroke="#000" stroke-width="1.2"/>
<text transform="translate(559.4,218.2) scale(0.92,1) rotate(-90)" text-anchor="middle" font-size="14" fill="#000" >0.130</text>
<line x1="568.4" y1="162.2" x2="576.2" y2="162.2" stroke="#000" stroke-width="1.2"/>
<text transform="translate(559.4,162.2) scale(0.92,1) rotate(-90)" text-anchor="middle" font-size="14" fill="#000" >0.135</text>
<line x1="568.4" y1="106.2" x2="576.2" y2="106.2" stroke="#000" stroke-width="1.2"/>
<text transform="translate(559.4,106.2) scale(0.92,1) rotate(-90)" text-anchor="middle" font-size="14" fill="#000" >0.140</text>
<text transform="translate(591.2,81.9) scale(0.92,1)" text-anchor="middle" font-size="14" fill="#000" >33</text>
<text transform="translate(618.91,81.9) scale(0.92,1)" text-anchor="middle" font-size="14" fill="#000" >33</text>
<text transform="translate(646.62,81.9) scale(0.92,1)" text-anchor="middle" font-size="14" fill="#000" >32</text>
<text transform="translate(674.33,81.9) scale(0.92,1)" text-anchor="middle" font-size="14" fill="#000" >32</text>
<text transform="translate(702.04,81.9) scale(0.92,1)" text-anchor="middle" font-size="14" fill="#000" >32</text>
<text transform="translate(729.75,81.9) scale(0.92,1)" text-anchor="middle" font-size="14" fill="#000" >33</text>
<text transform="translate(757.46,81.9) scale(0.92,1)" text-anchor="middle" font-size="14" fill="#000" >29</text>
<text transform="translate(785.17,81.9) scale(0.92,1)" text-anchor="middle" font-size="14" fill="#000" >25</text>
<text transform="translate(812.88,81.9) scale(0.92,1)" text-anchor="middle" font-size="14" fill="#000" >24</text>
<text transform="translate(840.59,81.9) scale(0.92,1)" text-anchor="middle" font-size="14" fill="#000" >19</text>
<text transform="translate(868.3,81.9) scale(0.92,1)" text-anchor="middle" font-size="14" fill="#000" >15</text>
<text transform="translate(891.39,81.9) scale(0.92,1)" text-anchor="middle" font-size="14" fill="#000" >9</text>
<text transform="translate(909.86,81.9) scale(0.92,1)" text-anchor="middle" font-size="14" fill="#000" >8</text>
<text transform="translate(928.34,81.9) scale(0.92,1)" text-anchor="middle" font-size="14" fill="#000" >4</text>
<text transform="translate(946.01,81.9) scale(0.92,1)" text-anchor="middle" font-size="14" fill="#000" >1</text>
<text transform="translate(964.48,81.9) scale(0.92,1)" text-anchor="middle" font-size="14" fill="#000" >1</text>
<text transform="translate(762.3,478.3) scale(0.82,1)" text-anchor="start" font-size="14" fill="#000" >Log</text>
<text transform="translate(782.3,479.3) scale(0.8,1)" font-size="16.5">(</text>
<text transform="translate(787.4,478.3) scale(0.95,1)" font-size="14.5" font-family="Liberation Serif" font-style="italic" style="font-family:'Liberation Serif',serif">λ</text>
<text transform="translate(794.5,479.3) scale(0.8,1)" font-size="16.5">)</text>
<text transform="translate(531.2,260) scale(0.92,1) rotate(-90)" text-anchor="middle" font-size="14" fill="#000" >Mean−Squared Error</text>
<text x="10.4" y="25.5" font-size="30.5" font-weight="bold">A</text>
<text transform="translate(522.9,24.1) scale(0.95,1)" font-size="30.5" font-weight="bold">B</text></svg>
</body></html>
